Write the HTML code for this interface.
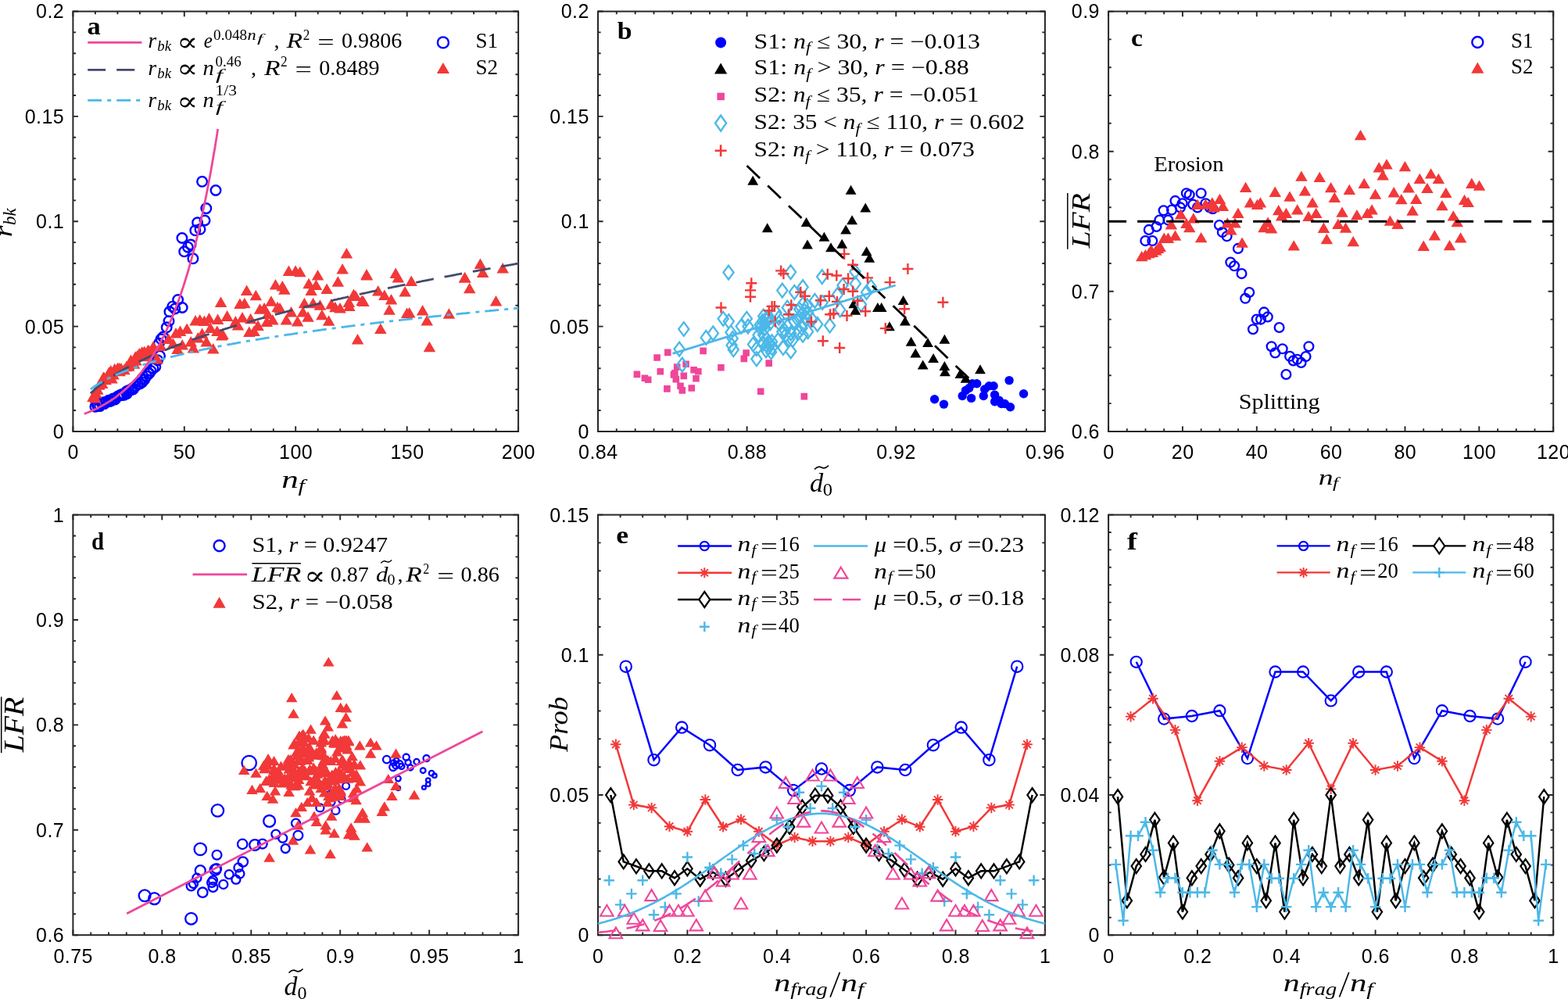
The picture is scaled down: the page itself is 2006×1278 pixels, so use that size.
<!DOCTYPE html>
<html><head><meta charset="utf-8"><style>html,body{margin:0;padding:0;background:#fff;overflow:hidden}svg{display:block}.tk{font-family:"Liberation Sans", Arial, sans-serif;font-size:25px;fill:#000;letter-spacing:0.45px}.m{font-family:"Liberation Serif", "DejaVu Serif", serif;fill:#000}.pl{font-family:"Liberation Serif", "DejaVu Serif", serif;font-weight:bold;font-size:32px;fill:#000}</style></head><body>
<svg xmlns="http://www.w3.org/2000/svg" width="2006" height="1278" viewBox="0 0 2006 1278">
<path d="M93.4 551.9v-6.6M93.4 14.6v6.6M121.9 551.9v-3.6M121.9 14.6v3.6M150.4 551.9v-3.6M150.4 14.6v3.6M178.9 551.9v-3.6M178.9 14.6v3.6M207.3 551.9v-3.6M207.3 14.6v3.6M235.8 551.9v-6.6M235.8 14.6v6.6M264.3 551.9v-3.6M264.3 14.6v3.6M292.8 551.9v-3.6M292.8 14.6v3.6M321.3 551.9v-3.6M321.3 14.6v3.6M349.8 551.9v-3.6M349.8 14.6v3.6M378.2 551.9v-6.6M378.2 14.6v6.6M406.7 551.9v-3.6M406.7 14.6v3.6M435.2 551.9v-3.6M435.2 14.6v3.6M463.7 551.9v-3.6M463.7 14.6v3.6M492.2 551.9v-3.6M492.2 14.6v3.6M520.7 551.9v-6.6M520.7 14.6v6.6M549.2 551.9v-3.6M549.2 14.6v3.6M577.6 551.9v-3.6M577.6 14.6v3.6M606.1 551.9v-3.6M606.1 14.6v3.6M634.6 551.9v-3.6M634.6 14.6v3.6M663.1 551.9v-6.6M663.1 14.6v6.6M93.4 551.9h6.6M663.1 551.9h-6.6M93.4 525h3.6M663.1 525h-3.6M93.4 498.2h3.6M663.1 498.2h-3.6M93.4 471.3h3.6M663.1 471.3h-3.6M93.4 444.4h3.6M663.1 444.4h-3.6M93.4 417.6h6.6M663.1 417.6h-6.6M93.4 390.7h3.6M663.1 390.7h-3.6M93.4 363.8h3.6M663.1 363.8h-3.6M93.4 337h3.6M663.1 337h-3.6M93.4 310.1h3.6M663.1 310.1h-3.6M93.4 283.2h6.6M663.1 283.2h-6.6M93.4 256.4h3.6M663.1 256.4h-3.6M93.4 229.5h3.6M663.1 229.5h-3.6M93.4 202.6h3.6M663.1 202.6h-3.6M93.4 175.8h3.6M663.1 175.8h-3.6M93.4 148.9h6.6M663.1 148.9h-6.6M93.4 122h3.6M663.1 122h-3.6M93.4 95.2h3.6M663.1 95.2h-3.6M93.4 68.3h3.6M663.1 68.3h-3.6M93.4 41.4h3.6M663.1 41.4h-3.6M93.4 14.5h6.6M663.1 14.5h-6.6" stroke="#262626" stroke-width="1.9" fill="none"/>
<rect x="93.4" y="14.6" width="569.7" height="537.4" fill="none" stroke="#262626" stroke-width="2"/>
<text x="93.7" y="587.2" text-anchor="middle" class="tk">0</text>
<text x="236.1" y="587.2" text-anchor="middle" class="tk">50</text>
<text x="378.6" y="587.2" text-anchor="middle" class="tk">100</text>
<text x="521" y="587.2" text-anchor="middle" class="tk">150</text>
<text x="663.4" y="587.2" text-anchor="middle" class="tk">200</text>
<text x="82.2" y="560.8" text-anchor="end" class="tk">0</text>
<text x="82.2" y="426.5" text-anchor="end" class="tk">0.05</text>
<text x="82.2" y="292.1" text-anchor="end" class="tk">0.1</text>
<text x="82.2" y="157.8" text-anchor="end" class="tk">0.15</text>
<text x="82.2" y="23.4" text-anchor="end" class="tk">0.2</text>
<path d="M765 551.9v-6.6M765 14.6v6.6M788.8 551.9v-3.6M788.8 14.6v3.6M812.7 551.9v-3.6M812.7 14.6v3.6M836.5 551.9v-3.6M836.5 14.6v3.6M860.3 551.9v-3.6M860.3 14.6v3.6M884.1 551.9v-3.6M884.1 14.6v3.6M908 551.9v-3.6M908 14.6v3.6M931.8 551.9v-3.6M931.8 14.6v3.6M955.6 551.9v-6.6M955.6 14.6v6.6M979.5 551.9v-3.6M979.5 14.6v3.6M1003.3 551.9v-3.6M1003.3 14.6v3.6M1027.1 551.9v-3.6M1027.1 14.6v3.6M1050.9 551.9v-3.6M1050.9 14.6v3.6M1074.8 551.9v-3.6M1074.8 14.6v3.6M1098.6 551.9v-3.6M1098.6 14.6v3.6M1122.4 551.9v-3.6M1122.4 14.6v3.6M1146.3 551.9v-6.6M1146.3 14.6v6.6M1170.1 551.9v-3.6M1170.1 14.6v3.6M1193.9 551.9v-3.6M1193.9 14.6v3.6M1217.8 551.9v-3.6M1217.8 14.6v3.6M1241.6 551.9v-3.6M1241.6 14.6v3.6M1265.4 551.9v-3.6M1265.4 14.6v3.6M1289.2 551.9v-3.6M1289.2 14.6v3.6M1313.1 551.9v-3.6M1313.1 14.6v3.6M1336.9 551.9v-6.6M1336.9 14.6v6.6M765 551.9h6.6M1336.9 551.9h-6.6M765 525h3.6M1336.9 525h-3.6M765 498.2h3.6M1336.9 498.2h-3.6M765 471.3h3.6M1336.9 471.3h-3.6M765 444.4h3.6M1336.9 444.4h-3.6M765 417.6h6.6M1336.9 417.6h-6.6M765 390.7h3.6M1336.9 390.7h-3.6M765 363.8h3.6M1336.9 363.8h-3.6M765 337h3.6M1336.9 337h-3.6M765 310.1h3.6M1336.9 310.1h-3.6M765 283.2h6.6M1336.9 283.2h-6.6M765 256.4h3.6M1336.9 256.4h-3.6M765 229.5h3.6M1336.9 229.5h-3.6M765 202.6h3.6M1336.9 202.6h-3.6M765 175.8h3.6M1336.9 175.8h-3.6M765 148.9h6.6M1336.9 148.9h-6.6M765 122h3.6M1336.9 122h-3.6M765 95.2h3.6M1336.9 95.2h-3.6M765 68.3h3.6M1336.9 68.3h-3.6M765 41.4h3.6M1336.9 41.4h-3.6M765 14.5h6.6M1336.9 14.5h-6.6" stroke="#262626" stroke-width="1.9" fill="none"/>
<rect x="765" y="14.6" width="571.9" height="537.4" fill="none" stroke="#262626" stroke-width="2"/>
<text x="765.3" y="587.2" text-anchor="middle" class="tk">0.84</text>
<text x="955.9" y="587.2" text-anchor="middle" class="tk">0.88</text>
<text x="1146.6" y="587.2" text-anchor="middle" class="tk">0.92</text>
<text x="1337.2" y="587.2" text-anchor="middle" class="tk">0.96</text>
<text x="753.8" y="560.8" text-anchor="end" class="tk">0</text>
<text x="753.8" y="426.5" text-anchor="end" class="tk">0.05</text>
<text x="753.8" y="292.1" text-anchor="end" class="tk">0.1</text>
<text x="753.8" y="157.8" text-anchor="end" class="tk">0.15</text>
<text x="753.8" y="23.4" text-anchor="end" class="tk">0.2</text>
<path d="M1418.1 551.9v-6.6M1418.1 14.6v6.6M1441.8 551.9v-3.6M1441.8 14.6v3.6M1465.5 551.9v-3.6M1465.5 14.6v3.6M1489.2 551.9v-3.6M1489.2 14.6v3.6M1512.9 551.9v-6.6M1512.9 14.6v6.6M1536.7 551.9v-3.6M1536.7 14.6v3.6M1560.4 551.9v-3.6M1560.4 14.6v3.6M1584.1 551.9v-3.6M1584.1 14.6v3.6M1607.8 551.9v-6.6M1607.8 14.6v6.6M1631.5 551.9v-3.6M1631.5 14.6v3.6M1655.2 551.9v-3.6M1655.2 14.6v3.6M1678.9 551.9v-3.6M1678.9 14.6v3.6M1702.7 551.9v-6.6M1702.7 14.6v6.6M1726.4 551.9v-3.6M1726.4 14.6v3.6M1750.1 551.9v-3.6M1750.1 14.6v3.6M1773.8 551.9v-3.6M1773.8 14.6v3.6M1797.5 551.9v-6.6M1797.5 14.6v6.6M1821.2 551.9v-3.6M1821.2 14.6v3.6M1844.9 551.9v-3.6M1844.9 14.6v3.6M1868.6 551.9v-3.6M1868.6 14.6v3.6M1892.3 551.9v-6.6M1892.3 14.6v6.6M1916.1 551.9v-3.6M1916.1 14.6v3.6M1939.8 551.9v-3.6M1939.8 14.6v3.6M1963.5 551.9v-3.6M1963.5 14.6v3.6M1987.2 551.9v-6.6M1987.2 14.6v6.6M1418.1 551.9h6.6M1987.2 551.9h-6.6M1418.1 516.1h3.6M1987.2 516.1h-3.6M1418.1 480.3h3.6M1987.2 480.3h-3.6M1418.1 444.4h3.6M1987.2 444.4h-3.6M1418.1 408.6h3.6M1987.2 408.6h-3.6M1418.1 372.8h6.6M1987.2 372.8h-6.6M1418.1 337h3.6M1987.2 337h-3.6M1418.1 301.1h3.6M1987.2 301.1h-3.6M1418.1 265.3h3.6M1987.2 265.3h-3.6M1418.1 229.5h3.6M1987.2 229.5h-3.6M1418.1 193.7h6.6M1987.2 193.7h-6.6M1418.1 157.8h3.6M1987.2 157.8h-3.6M1418.1 122h3.6M1987.2 122h-3.6M1418.1 86.2h3.6M1987.2 86.2h-3.6M1418.1 50.4h3.6M1987.2 50.4h-3.6M1418.1 14.6h6.6M1987.2 14.6h-6.6" stroke="#262626" stroke-width="1.9" fill="none"/>
<rect x="1418.1" y="14.6" width="569.1" height="537.4" fill="none" stroke="#262626" stroke-width="2"/>
<text x="1418.4" y="587.2" text-anchor="middle" class="tk">0</text>
<text x="1513.2" y="587.2" text-anchor="middle" class="tk">20</text>
<text x="1608.1" y="587.2" text-anchor="middle" class="tk">40</text>
<text x="1703" y="587.2" text-anchor="middle" class="tk">60</text>
<text x="1797.8" y="587.2" text-anchor="middle" class="tk">80</text>
<text x="1892.6" y="587.2" text-anchor="middle" class="tk">100</text>
<text x="1987.5" y="587.2" text-anchor="middle" class="tk">120</text>
<text x="1406.9" y="560.8" text-anchor="end" class="tk">0.6</text>
<text x="1406.9" y="381.7" text-anchor="end" class="tk">0.7</text>
<text x="1406.9" y="202.6" text-anchor="end" class="tk">0.8</text>
<text x="1406.9" y="23.4" text-anchor="end" class="tk">0.9</text>
<path d="M93.4 1196.2v-6.6M93.4 658.6v6.6M116.2 1196.2v-3.6M116.2 658.6v3.6M139 1196.2v-3.6M139 658.6v3.6M161.8 1196.2v-3.6M161.8 658.6v3.6M184.6 1196.2v-3.6M184.6 658.6v3.6M207.3 1196.2v-6.6M207.3 658.6v6.6M230.1 1196.2v-3.6M230.1 658.6v3.6M252.9 1196.2v-3.6M252.9 658.6v3.6M275.7 1196.2v-3.6M275.7 658.6v3.6M298.5 1196.2v-3.6M298.5 658.6v3.6M321.3 1196.2v-6.6M321.3 658.6v6.6M344.1 1196.2v-3.6M344.1 658.6v3.6M366.9 1196.2v-3.6M366.9 658.6v3.6M389.6 1196.2v-3.6M389.6 658.6v3.6M412.4 1196.2v-3.6M412.4 658.6v3.6M435.2 1196.2v-6.6M435.2 658.6v6.6M458 1196.2v-3.6M458 658.6v3.6M480.8 1196.2v-3.6M480.8 658.6v3.6M503.6 1196.2v-3.6M503.6 658.6v3.6M526.4 1196.2v-3.6M526.4 658.6v3.6M549.2 1196.2v-6.6M549.2 658.6v6.6M571.9 1196.2v-3.6M571.9 658.6v3.6M594.7 1196.2v-3.6M594.7 658.6v3.6M617.5 1196.2v-3.6M617.5 658.6v3.6M640.3 1196.2v-3.6M640.3 658.6v3.6M663.1 1196.2v-6.6M663.1 658.6v6.6M93.4 1196.2h6.6M663.1 1196.2h-6.6M93.4 1169.3h3.6M663.1 1169.3h-3.6M93.4 1142.4h3.6M663.1 1142.4h-3.6M93.4 1115.6h3.6M663.1 1115.6h-3.6M93.4 1088.7h3.6M663.1 1088.7h-3.6M93.4 1061.8h6.6M663.1 1061.8h-6.6M93.4 1034.9h3.6M663.1 1034.9h-3.6M93.4 1008h3.6M663.1 1008h-3.6M93.4 981.2h3.6M663.1 981.2h-3.6M93.4 954.3h3.6M663.1 954.3h-3.6M93.4 927.4h6.6M663.1 927.4h-6.6M93.4 900.5h3.6M663.1 900.5h-3.6M93.4 873.6h3.6M663.1 873.6h-3.6M93.4 846.8h3.6M663.1 846.8h-3.6M93.4 819.9h3.6M663.1 819.9h-3.6M93.4 793h6.6M663.1 793h-6.6M93.4 766.1h3.6M663.1 766.1h-3.6M93.4 739.2h3.6M663.1 739.2h-3.6M93.4 712.4h3.6M663.1 712.4h-3.6M93.4 685.5h3.6M663.1 685.5h-3.6M93.4 658.6h6.6M663.1 658.6h-6.6" stroke="#262626" stroke-width="1.9" fill="none"/>
<rect x="93.4" y="658.6" width="569.7" height="537.6" fill="none" stroke="#262626" stroke-width="2"/>
<text x="93.7" y="1231.5" text-anchor="middle" class="tk">0.75</text>
<text x="207.6" y="1231.5" text-anchor="middle" class="tk">0.8</text>
<text x="321.6" y="1231.5" text-anchor="middle" class="tk">0.85</text>
<text x="435.5" y="1231.5" text-anchor="middle" class="tk">0.9</text>
<text x="549.5" y="1231.5" text-anchor="middle" class="tk">0.95</text>
<text x="663.4" y="1231.5" text-anchor="middle" class="tk">1</text>
<text x="82.2" y="1205.1" text-anchor="end" class="tk">0.6</text>
<text x="82.2" y="1070.7" text-anchor="end" class="tk">0.7</text>
<text x="82.2" y="936.3" text-anchor="end" class="tk">0.8</text>
<text x="82.2" y="801.9" text-anchor="end" class="tk">0.9</text>
<text x="82.2" y="667.5" text-anchor="end" class="tk">1</text>
<path d="M765 1196.2v-6.6M765 658.6v6.6M793.6 1196.2v-3.6M793.6 658.6v3.6M822.2 1196.2v-3.6M822.2 658.6v3.6M850.8 1196.2v-3.6M850.8 658.6v3.6M879.4 1196.2v-6.6M879.4 658.6v6.6M908 1196.2v-3.6M908 658.6v3.6M936.6 1196.2v-3.6M936.6 658.6v3.6M965.2 1196.2v-3.6M965.2 658.6v3.6M993.8 1196.2v-6.6M993.8 658.6v6.6M1022.4 1196.2v-3.6M1022.4 658.6v3.6M1051 1196.2v-3.6M1051 658.6v3.6M1079.5 1196.2v-3.6M1079.5 658.6v3.6M1108.1 1196.2v-6.6M1108.1 658.6v6.6M1136.7 1196.2v-3.6M1136.7 658.6v3.6M1165.3 1196.2v-3.6M1165.3 658.6v3.6M1193.9 1196.2v-3.6M1193.9 658.6v3.6M1222.5 1196.2v-6.6M1222.5 658.6v6.6M1251.1 1196.2v-3.6M1251.1 658.6v3.6M1279.7 1196.2v-3.6M1279.7 658.6v3.6M1308.3 1196.2v-3.6M1308.3 658.6v3.6M1336.9 1196.2v-6.6M1336.9 658.6v6.6M765 1196.2h6.6M1336.9 1196.2h-6.6M765 1160.4h3.6M1336.9 1160.4h-3.6M765 1124.5h3.6M1336.9 1124.5h-3.6M765 1088.7h3.6M1336.9 1088.7h-3.6M765 1052.8h3.6M1336.9 1052.8h-3.6M765 1017h6.6M1336.9 1017h-6.6M765 981.2h3.6M1336.9 981.2h-3.6M765 945.3h3.6M1336.9 945.3h-3.6M765 909.5h3.6M1336.9 909.5h-3.6M765 873.6h3.6M1336.9 873.6h-3.6M765 837.8h6.6M1336.9 837.8h-6.6M765 802h3.6M1336.9 802h-3.6M765 766.1h3.6M1336.9 766.1h-3.6M765 730.3h3.6M1336.9 730.3h-3.6M765 694.4h3.6M1336.9 694.4h-3.6M765 658.6h6.6M1336.9 658.6h-6.6" stroke="#262626" stroke-width="1.9" fill="none"/>
<rect x="765" y="658.6" width="571.9" height="537.6" fill="none" stroke="#262626" stroke-width="2"/>
<text x="765.3" y="1231.5" text-anchor="middle" class="tk">0</text>
<text x="879.7" y="1231.5" text-anchor="middle" class="tk">0.2</text>
<text x="994.1" y="1231.5" text-anchor="middle" class="tk">0.4</text>
<text x="1108.4" y="1231.5" text-anchor="middle" class="tk">0.6</text>
<text x="1222.8" y="1231.5" text-anchor="middle" class="tk">0.8</text>
<text x="1337.2" y="1231.5" text-anchor="middle" class="tk">1</text>
<text x="753.8" y="1205.1" text-anchor="end" class="tk">0</text>
<text x="753.8" y="1025.9" text-anchor="end" class="tk">0.05</text>
<text x="753.8" y="846.7" text-anchor="end" class="tk">0.1</text>
<text x="753.8" y="667.5" text-anchor="end" class="tk">0.15</text>
<path d="M1418.1 1196.2v-6.6M1418.1 658.6v6.6M1446.6 1196.2v-3.6M1446.6 658.6v3.6M1475 1196.2v-3.6M1475 658.6v3.6M1503.5 1196.2v-3.6M1503.5 658.6v3.6M1531.9 1196.2v-6.6M1531.9 658.6v6.6M1560.4 1196.2v-3.6M1560.4 658.6v3.6M1588.8 1196.2v-3.6M1588.8 658.6v3.6M1617.3 1196.2v-3.6M1617.3 658.6v3.6M1645.7 1196.2v-6.6M1645.7 658.6v6.6M1674.2 1196.2v-3.6M1674.2 658.6v3.6M1702.7 1196.2v-3.6M1702.7 658.6v3.6M1731.1 1196.2v-3.6M1731.1 658.6v3.6M1759.6 1196.2v-6.6M1759.6 658.6v6.6M1788 1196.2v-3.6M1788 658.6v3.6M1816.5 1196.2v-3.6M1816.5 658.6v3.6M1844.9 1196.2v-3.6M1844.9 658.6v3.6M1873.4 1196.2v-6.6M1873.4 658.6v6.6M1901.8 1196.2v-3.6M1901.8 658.6v3.6M1930.3 1196.2v-3.6M1930.3 658.6v3.6M1958.7 1196.2v-3.6M1958.7 658.6v3.6M1987.2 1196.2v-6.6M1987.2 658.6v6.6M1418.1 1196.2h6.6M1987.2 1196.2h-6.6M1418.1 1173.8h3.6M1987.2 1173.8h-3.6M1418.1 1151.4h3.6M1987.2 1151.4h-3.6M1418.1 1129h3.6M1987.2 1129h-3.6M1418.1 1106.6h3.6M1987.2 1106.6h-3.6M1418.1 1084.2h3.6M1987.2 1084.2h-3.6M1418.1 1061.8h3.6M1987.2 1061.8h-3.6M1418.1 1039.4h3.6M1987.2 1039.4h-3.6M1418.1 1017h6.6M1987.2 1017h-6.6M1418.1 994.6h3.6M1987.2 994.6h-3.6M1418.1 972.2h3.6M1987.2 972.2h-3.6M1418.1 949.8h3.6M1987.2 949.8h-3.6M1418.1 927.4h3.6M1987.2 927.4h-3.6M1418.1 905h3.6M1987.2 905h-3.6M1418.1 882.6h3.6M1987.2 882.6h-3.6M1418.1 860.2h3.6M1987.2 860.2h-3.6M1418.1 837.8h6.6M1987.2 837.8h-6.6M1418.1 815.4h3.6M1987.2 815.4h-3.6M1418.1 793h3.6M1987.2 793h-3.6M1418.1 770.6h3.6M1987.2 770.6h-3.6M1418.1 748.2h3.6M1987.2 748.2h-3.6M1418.1 725.8h3.6M1987.2 725.8h-3.6M1418.1 703.4h3.6M1987.2 703.4h-3.6M1418.1 681h3.6M1987.2 681h-3.6M1418.1 658.6h6.6M1987.2 658.6h-6.6" stroke="#262626" stroke-width="1.9" fill="none"/>
<rect x="1418.1" y="658.6" width="569.1" height="537.6" fill="none" stroke="#262626" stroke-width="2"/>
<text x="1418.4" y="1231.5" text-anchor="middle" class="tk">0</text>
<text x="1532.2" y="1231.5" text-anchor="middle" class="tk">0.2</text>
<text x="1646" y="1231.5" text-anchor="middle" class="tk">0.4</text>
<text x="1759.9" y="1231.5" text-anchor="middle" class="tk">0.6</text>
<text x="1873.7" y="1231.5" text-anchor="middle" class="tk">0.8</text>
<text x="1987.5" y="1231.5" text-anchor="middle" class="tk">1</text>
<text x="1406.9" y="1205.1" text-anchor="end" class="tk">0</text>
<text x="1406.9" y="1025.9" text-anchor="end" class="tk">0.04</text>
<text x="1406.9" y="846.7" text-anchor="end" class="tk">0.08</text>
<text x="1406.9" y="667.5" text-anchor="end" class="tk">0.12</text>
<text x="111.6" y="43.6" class="pl" textLength="17.2" lengthAdjust="spacingAndGlyphs">a</text>
<text x="789.8" y="49.6" class="pl" textLength="18.8" lengthAdjust="spacingAndGlyphs">b</text>
<text x="1447" y="58.6" class="pl" textLength="15" lengthAdjust="spacingAndGlyphs">c</text>
<text x="117" y="703.2" class="pl" textLength="16.1" lengthAdjust="spacingAndGlyphs">d</text>
<text x="788.3" y="695.3" class="pl" textLength="15.8" lengthAdjust="spacingAndGlyphs">e</text>
<text x="1441.8" y="702.6" class="pl" textLength="13.1" lengthAdjust="spacingAndGlyphs">f</text>
<text class="m" x="360.2" y="623.9" font-size="31.5" font-style="italic" textLength="21.5" lengthAdjust="spacingAndGlyphs">n</text>
<text class="m" x="381.5" y="628.8" font-size="23.6" font-style="italic" textLength="8.4" lengthAdjust="spacingAndGlyphs">f</text>
<g transform="translate(0 310) rotate(-90)"><text class="m" x="6.7" y="14.9" font-size="31" font-style="italic" textLength="14.6" lengthAdjust="spacingAndGlyphs">r</text><text class="m" x="22.1" y="19.8" font-size="23.6" font-style="italic" textLength="21.6" lengthAdjust="spacingAndGlyphs">bk</text></g>
<text class="m" x="1036" y="628.7" font-size="33" font-style="italic" textLength="17.2" lengthAdjust="spacingAndGlyphs">d</text>
<text class="m" x="1052.8" y="634" font-size="23.5" textLength="12.2" lengthAdjust="spacingAndGlyphs">0</text>
<path d="M1042 600.5q4.5-5 9-2.5t9-2.5" stroke="#000" stroke-width="1.7" fill="none"/>
<text class="m" x="1686.8" y="620" font-size="27" font-style="italic" textLength="18.9" lengthAdjust="spacingAndGlyphs">n</text>
<text class="m" x="1705" y="624.3" font-size="18.7" font-style="italic" textLength="7.1" lengthAdjust="spacingAndGlyphs">f</text>
<g transform="translate(1393.5 318) rotate(-90)"><text class="m" x="0.5" y="0" font-size="34.4" font-style="italic" textLength="70.6" lengthAdjust="spacingAndGlyphs">LFR</text></g>
<path d="M1365.8 246.9V318.7" stroke="#000" stroke-width="1.5"/>
<text class="m" x="363.5" y="1273" font-size="33" font-style="italic" textLength="16.9" lengthAdjust="spacingAndGlyphs">d</text>
<text class="m" x="380.4" y="1278.3" font-size="23.5" textLength="12" lengthAdjust="spacingAndGlyphs">0</text>
<path d="M369.5 1244.5q4.5-5 9-2.5t9-2.5" stroke="#000" stroke-width="1.7" fill="none"/>
<g transform="translate(29.6 962.8) rotate(-90)"><text class="m" x="0.5" y="0" font-size="35" font-style="italic" textLength="70.7" lengthAdjust="spacingAndGlyphs">LFR</text></g>
<path d="M1.7 891.4V963.2" stroke="#000" stroke-width="1.5"/>
<text class="m" x="990.3" y="1268.1" font-size="31.6" font-style="italic" textLength="21" lengthAdjust="spacingAndGlyphs">n</text><text class="m" x="1011.3" y="1273" font-size="22.1" font-style="italic" textLength="47.5" lengthAdjust="spacingAndGlyphs">frag</text><path d="M1074.4 1243.8L1062.1 1275.6" stroke="#000" stroke-width="1.7"/><text class="m" x="1075.5" y="1268.1" font-size="31.6" font-style="italic" textLength="21.5" lengthAdjust="spacingAndGlyphs">n</text><text class="m" x="1096.8" y="1273" font-size="22.1" font-style="italic" textLength="8.5" lengthAdjust="spacingAndGlyphs">f</text>
<g transform="translate(725.6 961.9) rotate(-90)"><text class="m" x="0.2" y="0" font-size="34" font-style="italic" textLength="70.5" lengthAdjust="spacingAndGlyphs">Prob</text></g>
<text class="m" x="1641.7" y="1268" font-size="31.6" font-style="italic" textLength="21" lengthAdjust="spacingAndGlyphs">n</text><text class="m" x="1662.7" y="1272.9" font-size="22.1" font-style="italic" textLength="47.5" lengthAdjust="spacingAndGlyphs">frag</text><path d="M1725.8 1243.7L1713.5 1275.5" stroke="#000" stroke-width="1.7"/><text class="m" x="1726.9" y="1268" font-size="31.6" font-style="italic" textLength="21.5" lengthAdjust="spacingAndGlyphs">n</text><text class="m" x="1748.2" y="1272.9" font-size="22.1" font-style="italic" textLength="8.5" lengthAdjust="spacingAndGlyphs">f</text>
<text class="m" x="1476.2" y="218.8" font-size="27" textLength="89.3" lengthAdjust="spacingAndGlyphs" ><tspan >Erosion</tspan></text>
<text class="m" x="1584.7" y="522.8" font-size="27" textLength="103.8" lengthAdjust="spacingAndGlyphs" ><tspan >Splitting</tspan></text>
<path d="M112.2 54.3H181.4" stroke="#f0469a" stroke-width="2.8"/>
<path d="M112.2 89.3H181.4" stroke="#434a6c" stroke-width="2.8" stroke-dasharray="23 14"/>
<path d="M112.2 128.4H181" stroke="#4cb8e8" stroke-width="2.8" stroke-dasharray="18 7 5 7"/>
<text class="m" x="189.4" y="61.1" font-size="28" font-style="italic" textLength="10.6" lengthAdjust="spacingAndGlyphs">r</text>
<text class="m" x="201.3" y="65.3" font-size="19.5" font-style="italic" textLength="17.7" lengthAdjust="spacingAndGlyphs">bk</text>
<text class="m" x="226.1" y="64.9" font-size="33.4" style='font-family:"DejaVu Serif", serif' textLength="27.4" lengthAdjust="spacingAndGlyphs">∝</text>
<text class="m" x="189.4" y="95.6" font-size="28" font-style="italic" textLength="10.6" lengthAdjust="spacingAndGlyphs">r</text>
<text class="m" x="201.3" y="99.8" font-size="19.5" font-style="italic" textLength="17.7" lengthAdjust="spacingAndGlyphs">bk</text>
<text class="m" x="226.1" y="99.4" font-size="33.4" style='font-family:"DejaVu Serif", serif' textLength="27.4" lengthAdjust="spacingAndGlyphs">∝</text>
<text class="m" x="189.4" y="136.7" font-size="28" font-style="italic" textLength="10.6" lengthAdjust="spacingAndGlyphs">r</text>
<text class="m" x="201.3" y="140.9" font-size="19.5" font-style="italic" textLength="17.7" lengthAdjust="spacingAndGlyphs">bk</text>
<text class="m" x="226.1" y="140.5" font-size="33.4" style='font-family:"DejaVu Serif", serif' textLength="27.4" lengthAdjust="spacingAndGlyphs">∝</text>
<text class="m" x="260.8" y="61.1" font-size="28" font-style="italic" textLength="11.1" lengthAdjust="spacingAndGlyphs">e</text>
<text class="m" x="273.1" y="51.1" font-size="19.5" textLength="43.1" lengthAdjust="spacingAndGlyphs">0.048</text>
<text class="m" x="316.6" y="51.1" font-size="19.5" font-style="italic" textLength="11.1" lengthAdjust="spacingAndGlyphs">n</text>
<text class="m" x="328.9" y="54.3" font-size="14" font-style="italic" textLength="7.6" lengthAdjust="spacingAndGlyphs">f</text>
<text class="m" x="350.5" y="61.3" font-size="28">,</text>
<text class="m" x="366.5" y="61.3" font-size="28" font-style="italic" textLength="20.5" lengthAdjust="spacingAndGlyphs">R</text>
<text class="m" x="387.8" y="51.1" font-size="19.5" textLength="8.6" lengthAdjust="spacingAndGlyphs">2</text>
<text class="m" x="406.3" y="63.4" font-size="28" textLength="21.4" lengthAdjust="spacingAndGlyphs">=</text>
<text class="m" x="437" y="61.3" font-size="28" textLength="77.3" lengthAdjust="spacingAndGlyphs">0.9806</text>
<text class="m" x="259.6" y="95.6" font-size="28" font-style="italic" textLength="14.3" lengthAdjust="spacingAndGlyphs">n</text>
<text class="m" x="275.9" y="101.8" font-size="19.5" font-style="italic" textLength="9.2" lengthAdjust="spacingAndGlyphs">f</text>
<text class="m" x="275.5" y="85.3" font-size="19.5" textLength="33.1" lengthAdjust="spacingAndGlyphs">0.46</text>
<text class="m" x="321" y="95.5" font-size="28">,</text>
<text class="m" x="338" y="95.5" font-size="28" font-style="italic" textLength="20.5" lengthAdjust="spacingAndGlyphs">R</text>
<text class="m" x="359" y="85.3" font-size="19.5" textLength="8.6" lengthAdjust="spacingAndGlyphs">2</text>
<text class="m" x="377.6" y="97.6" font-size="28" textLength="21.4" lengthAdjust="spacingAndGlyphs">=</text>
<text class="m" x="408.3" y="95.5" font-size="28" textLength="77.2" lengthAdjust="spacingAndGlyphs">0.8489</text>
<text class="m" x="259.6" y="136.7" font-size="28" font-style="italic" textLength="14.3" lengthAdjust="spacingAndGlyphs">n</text>
<text class="m" x="275.9" y="142.9" font-size="19.5" font-style="italic" textLength="9.2" lengthAdjust="spacingAndGlyphs">f</text>
<text class="m" x="275.5" y="122.4" font-size="19.5" textLength="27.5" lengthAdjust="spacingAndGlyphs">1/3</text>
<g fill="none" stroke="#0000ff" stroke-width="2.4"><circle cx="566.9" cy="54.4" r="7"/></g>
<path fill="#f23838" d="M566.9 79.9l8.1 14.2h-16.2z"/>
<text class="m" x="608.6" y="61" font-size="27" ><tspan >S1</tspan></text>
<text class="m" x="608.6" y="95" font-size="27" ><tspan >S2</tspan></text>
<circle cx="922.1" cy="54.4" r="7" fill="#0000ff"/>
<path fill="#000000" d="M922.1 80.4l8.1 14h-16.2z"/>
<path fill="#f0469a" d="M917.4 118.7h9.5v9.5h-9.5z"/>
<path fill="none" stroke="#4cb8e8" stroke-width="2.5"  d="M922.1 147.6l7 10l-7 10l-7 -10z"/>
<path fill="none" stroke="#f23838" stroke-width="2.6"  d="M914.6 192.7h15M922.1 185.2v15"/>
<text class="m" x="964.6" y="61.5" font-size="27" textLength="289.4" lengthAdjust="spacingAndGlyphs" ><tspan >S1:  </tspan><tspan font-style="italic">n</tspan><tspan font-style="italic" font-size="18.9" dy="5.9">f</tspan><tspan dy="-5.9"> ≤ 30, </tspan><tspan font-style="italic">r</tspan><tspan > = −0.013</tspan></text>
<text class="m" x="964.6" y="94.8" font-size="27" textLength="275.2" lengthAdjust="spacingAndGlyphs" ><tspan >S1:  </tspan><tspan font-style="italic">n</tspan><tspan font-style="italic" font-size="18.9" dy="5.9">f</tspan><tspan dy="-5.9"> &gt; 30, </tspan><tspan font-style="italic">r</tspan><tspan > = −0.88</tspan></text>
<text class="m" x="964.6" y="130.4" font-size="27" textLength="288" lengthAdjust="spacingAndGlyphs" ><tspan >S2:  </tspan><tspan font-style="italic">n</tspan><tspan font-style="italic" font-size="18.9" dy="5.9">f</tspan><tspan dy="-5.9"> ≤ 35, </tspan><tspan font-style="italic">r</tspan><tspan > = −0.051</tspan></text>
<text class="m" x="964.6" y="164.6" font-size="27" textLength="346.4" lengthAdjust="spacingAndGlyphs" ><tspan >S2:  35 &lt; </tspan><tspan font-style="italic">n</tspan><tspan font-style="italic" font-size="18.9" dy="5.9">f</tspan><tspan dy="-5.9"> ≤ 110, </tspan><tspan font-style="italic">r</tspan><tspan > = 0.602</tspan></text>
<text class="m" x="964.6" y="199.7" font-size="27" textLength="282.3" lengthAdjust="spacingAndGlyphs" ><tspan >S2:  </tspan><tspan font-style="italic">n</tspan><tspan font-style="italic" font-size="18.9" dy="5.9">f</tspan><tspan dy="-5.9"> &gt; 110, </tspan><tspan font-style="italic">r</tspan><tspan > = 0.073</tspan></text>
<g fill="none" stroke="#0000ff" stroke-width="2.4"><circle cx="1890.3" cy="54" r="7"/></g>
<path fill="#f23838" d="M1890.3 79.5l8.1 14.2h-16.2z"/>
<text class="m" x="1932.9" y="61.3" font-size="27" ><tspan >S1</tspan></text>
<text class="m" x="1932.9" y="94.3" font-size="27" ><tspan >S2</tspan></text>
<g fill="none" stroke="#0000ff" stroke-width="2.4"><circle cx="280.6" cy="698.2" r="7"/></g>
<path d="M246.5 734.8H316.1" stroke="#f0469a" stroke-width="2.8"/>
<path fill="#f23838" d="M280.6 763.6l8.1 14.2h-16.2z"/>
<text class="m" x="322.6" y="705.5" font-size="27" textLength="173.4" lengthAdjust="spacingAndGlyphs" ><tspan >S1, </tspan><tspan font-style="italic">r</tspan><tspan > = 0.9247</tspan></text>
<text class="m" x="321.8" y="743.9" font-size="28" font-style="italic" textLength="63.5" lengthAdjust="spacingAndGlyphs">LFR</text>
<path d="M322.4 720.7H384.9" stroke="#000" stroke-width="1.4"/>
<text class="m" x="389" y="747.7" font-size="33.4" style='font-family:"DejaVu Serif", serif' textLength="27.7" lengthAdjust="spacingAndGlyphs">∝</text>
<text class="m" x="422.8" y="743.9" font-size="28" textLength="49" lengthAdjust="spacingAndGlyphs">0.87</text>
<text class="m" x="481" y="743.9" font-size="28" font-style="italic" textLength="15.5" lengthAdjust="spacingAndGlyphs">d</text>
<path d="M487.2 720.4q3.5-4 7-2t7-2" stroke="#000" stroke-width="1.4" fill="none"/>
<text class="m" x="495.6" y="747.9" font-size="19.5" textLength="10" lengthAdjust="spacingAndGlyphs">0</text>
<text class="m" x="508.6" y="743.9" font-size="28">,</text>
<text class="m" x="519.3" y="743.9" font-size="28" font-style="italic" textLength="20.5" lengthAdjust="spacingAndGlyphs">R</text>
<text class="m" x="541.3" y="734" font-size="19.5" textLength="8" lengthAdjust="spacingAndGlyphs">2</text>
<text class="m" x="559.3" y="746" font-size="28" textLength="21.8" lengthAdjust="spacingAndGlyphs">=</text>
<text class="m" x="589.5" y="743.9" font-size="28" textLength="49.5" lengthAdjust="spacingAndGlyphs">0.86</text>
<text class="m" x="322.6" y="778.6" font-size="27" textLength="180.2" lengthAdjust="spacingAndGlyphs" ><tspan >S2, </tspan><tspan font-style="italic">r</tspan><tspan > = −0.058</tspan></text>
<path d="M867.1 698.5H936.1" stroke="#0000ff" stroke-width="2.4"/>
<g fill="none" stroke="#0000ff" stroke-width="2.2"><circle cx="901.3" cy="698.5" r="5.6"/></g>
<path d="M867.1 732.7H936.1" stroke="#f23838" stroke-width="2.4"/>
<path fill="none" stroke="#f23838" stroke-width="2"  d="M901.3 726.2v13M896.7 728.1l9.2 9.2M896.7 737.3l9.2 -9.2M894.8 732.7h13"/>
<path d="M867.1 767H936.1" stroke="#000000" stroke-width="2.4"/>
<path d="M901.3 757l7 10l-7 10l-7 -10z" fill="#fff" stroke="#000" stroke-width="2.2"/>
<path fill="none" stroke="#4cb8e8" stroke-width="2.4"  d="M894.8 801.7h13M901.3 795.2v13"/>
<text class="m" x="943.5" y="705.3" font-size="28" font-style="italic" textLength="16.9" lengthAdjust="spacingAndGlyphs">n</text><text class="m" x="961.3" y="709.9" font-size="19.5" font-style="italic" textLength="6.2" lengthAdjust="spacingAndGlyphs">f</text><text class="m" x="973" y="707.6" font-size="28" textLength="21.9" lengthAdjust="spacingAndGlyphs">=</text><text class="m" x="996.1" y="705.3" font-size="28" textLength="26.6" lengthAdjust="spacingAndGlyphs">16</text>
<text class="m" x="943.5" y="739.5" font-size="28" font-style="italic" textLength="16.9" lengthAdjust="spacingAndGlyphs">n</text><text class="m" x="961.3" y="744.1" font-size="19.5" font-style="italic" textLength="6.2" lengthAdjust="spacingAndGlyphs">f</text><text class="m" x="973" y="741.8" font-size="28" textLength="21.9" lengthAdjust="spacingAndGlyphs">=</text><text class="m" x="996.1" y="739.5" font-size="28" textLength="26.6" lengthAdjust="spacingAndGlyphs">25</text>
<text class="m" x="943.5" y="773.8" font-size="28" font-style="italic" textLength="16.9" lengthAdjust="spacingAndGlyphs">n</text><text class="m" x="961.3" y="778.4" font-size="19.5" font-style="italic" textLength="6.2" lengthAdjust="spacingAndGlyphs">f</text><text class="m" x="973" y="776.1" font-size="28" textLength="21.9" lengthAdjust="spacingAndGlyphs">=</text><text class="m" x="996.1" y="773.8" font-size="28" textLength="26.6" lengthAdjust="spacingAndGlyphs">35</text>
<text class="m" x="943.5" y="808.5" font-size="28" font-style="italic" textLength="16.9" lengthAdjust="spacingAndGlyphs">n</text><text class="m" x="961.3" y="813.1" font-size="19.5" font-style="italic" textLength="6.2" lengthAdjust="spacingAndGlyphs">f</text><text class="m" x="973" y="810.8" font-size="28" textLength="21.9" lengthAdjust="spacingAndGlyphs">=</text><text class="m" x="996.1" y="808.5" font-size="28" textLength="26.6" lengthAdjust="spacingAndGlyphs">40</text>
<path d="M1041 698.5H1110" stroke="#4cb8e8" stroke-width="2.6"/>
<path fill="none" stroke="#f0469a" stroke-width="2.2"  d="M1075.8 725.7l8.5 14h-17z"/>
<path d="M1041 767H1110" stroke="#f0469a" stroke-width="2.6" stroke-dasharray="23 14"/>
<text class="m" x="1118.6" y="705.5" font-size="27" textLength="191.6" lengthAdjust="spacingAndGlyphs" ><tspan font-style="italic">μ</tspan><tspan > =0.5, </tspan><tspan font-style="italic">σ</tspan><tspan > =0.23</tspan></text>
<text class="m" x="1118" y="739.5" font-size="28" font-style="italic" textLength="16.9" lengthAdjust="spacingAndGlyphs">n</text><text class="m" x="1135.8" y="744.1" font-size="19.5" font-style="italic" textLength="6.2" lengthAdjust="spacingAndGlyphs">f</text><text class="m" x="1147.5" y="741.8" font-size="28" textLength="21.9" lengthAdjust="spacingAndGlyphs">=</text><text class="m" x="1170.6" y="739.5" font-size="28" textLength="26.6" lengthAdjust="spacingAndGlyphs">50</text>
<text class="m" x="1118.6" y="774" font-size="27" textLength="191.6" lengthAdjust="spacingAndGlyphs" ><tspan font-style="italic">μ</tspan><tspan > =0.5, </tspan><tspan font-style="italic">σ</tspan><tspan > =0.18</tspan></text>
<path d="M1633.6 698.4H1701.7" stroke="#0000ff" stroke-width="2.4"/>
<g fill="none" stroke="#0000ff" stroke-width="2.2"><circle cx="1667.6" cy="698.4" r="5.6"/></g>
<path d="M1633.6 732.4H1701.7" stroke="#f23838" stroke-width="2.4"/>
<path fill="none" stroke="#f23838" stroke-width="2"  d="M1667.6 725.9v13M1663 727.8l9.2 9.2M1663 737l9.2 -9.2M1661.1 732.4h13"/>
<path d="M1807.2 698.4H1875.3" stroke="#000000" stroke-width="2.4"/>
<path d="M1841.3 688.4l7 10l-7 10l-7 -10z" fill="#fff" stroke="#000" stroke-width="2.2"/>
<path d="M1807.2 732.4H1875.3" stroke="#4cb8e8" stroke-width="2.4"/>
<path fill="none" stroke="#4cb8e8" stroke-width="2.4"  d="M1834.8 732.4h13M1841.3 725.9v13"/>
<text class="m" x="1709.6" y="705.2" font-size="28" font-style="italic" textLength="16.9" lengthAdjust="spacingAndGlyphs">n</text><text class="m" x="1727.4" y="709.8" font-size="19.5" font-style="italic" textLength="6.2" lengthAdjust="spacingAndGlyphs">f</text><text class="m" x="1739.1" y="707.5" font-size="28" textLength="21.9" lengthAdjust="spacingAndGlyphs">=</text><text class="m" x="1762.2" y="705.2" font-size="28" textLength="26.6" lengthAdjust="spacingAndGlyphs">16</text>
<text class="m" x="1709.6" y="739.2" font-size="28" font-style="italic" textLength="16.9" lengthAdjust="spacingAndGlyphs">n</text><text class="m" x="1727.4" y="743.8" font-size="19.5" font-style="italic" textLength="6.2" lengthAdjust="spacingAndGlyphs">f</text><text class="m" x="1739.1" y="741.5" font-size="28" textLength="21.9" lengthAdjust="spacingAndGlyphs">=</text><text class="m" x="1762.2" y="739.2" font-size="28" textLength="26.6" lengthAdjust="spacingAndGlyphs">20</text>
<text class="m" x="1883.5" y="705.2" font-size="28" font-style="italic" textLength="16.9" lengthAdjust="spacingAndGlyphs">n</text><text class="m" x="1901.3" y="709.8" font-size="19.5" font-style="italic" textLength="6.2" lengthAdjust="spacingAndGlyphs">f</text><text class="m" x="1913" y="707.5" font-size="28" textLength="21.9" lengthAdjust="spacingAndGlyphs">=</text><text class="m" x="1936.1" y="705.2" font-size="28" textLength="26.6" lengthAdjust="spacingAndGlyphs">48</text>
<text class="m" x="1883.5" y="739.2" font-size="28" font-style="italic" textLength="16.9" lengthAdjust="spacingAndGlyphs">n</text><text class="m" x="1901.3" y="743.8" font-size="19.5" font-style="italic" textLength="6.2" lengthAdjust="spacingAndGlyphs">f</text><text class="m" x="1913" y="741.5" font-size="28" textLength="21.9" lengthAdjust="spacingAndGlyphs">=</text><text class="m" x="1936.1" y="739.2" font-size="28" textLength="26.6" lengthAdjust="spacingAndGlyphs">60</text>
<g fill="none" stroke="#0000ff" stroke-width="2.4"><circle cx="121.9" cy="520.3" r="6.3"/><circle cx="124.7" cy="518.6" r="6.3"/><circle cx="127.6" cy="519.6" r="6.3"/><circle cx="130.4" cy="516.3" r="6.3"/><circle cx="133.3" cy="516.6" r="6.3"/><circle cx="136.1" cy="514.5" r="6.3"/><circle cx="139" cy="512.2" r="6.3"/><circle cx="141.8" cy="513" r="6.3"/><circle cx="144.7" cy="510.1" r="6.3"/><circle cx="147.5" cy="510.2" r="6.3"/><circle cx="150.4" cy="507.3" r="6.3"/><circle cx="153.2" cy="505.7" r="6.3"/><circle cx="156.1" cy="505.4" r="6.3"/><circle cx="158.9" cy="505.3" r="6.3"/><circle cx="161.8" cy="500.7" r="6.3"/><circle cx="164.6" cy="499.4" r="6.3"/><circle cx="167.5" cy="498.8" r="6.3"/><circle cx="170.3" cy="498" r="6.3"/><circle cx="173.2" cy="494.3" r="6.3"/><circle cx="176" cy="491.1" r="6.3"/><circle cx="178.9" cy="490.9" r="6.3"/><circle cx="181.7" cy="484.9" r="6.3"/><circle cx="184.6" cy="485.8" r="6.3"/><circle cx="187.4" cy="481.2" r="6.3"/><circle cx="190.2" cy="477.6" r="6.3"/><circle cx="193.1" cy="474.5" r="6.3"/><circle cx="195.9" cy="471.2" r="6.3"/><circle cx="198.8" cy="469.3" r="6.3"/><circle cx="201.6" cy="460.7" r="6.3"/><circle cx="204.5" cy="455.3" r="6.3"/><circle cx="125" cy="519.2" r="6.3"/><circle cx="130.5" cy="515.4" r="6.3"/><circle cx="132.4" cy="514.7" r="6.3"/><circle cx="139.3" cy="513.6" r="6.3"/><circle cx="147.1" cy="511" r="6.3"/><circle cx="156" cy="504.5" r="6.3"/><circle cx="162.4" cy="503.4" r="6.3"/><circle cx="169.8" cy="496.6" r="6.3"/><circle cx="181.8" cy="488.9" r="6.3"/><circle cx="190.7" cy="477.7" r="6.3"/><circle cx="258.6" cy="232.3" r="6.3"/><circle cx="276" cy="243.5" r="6.3"/><circle cx="263.8" cy="266.6" r="6.3"/><circle cx="262" cy="282" r="6.3"/><circle cx="252.6" cy="284.8" r="6.3"/><circle cx="256" cy="293.3" r="6.3"/><circle cx="249.8" cy="294.8" r="6.3"/><circle cx="232.9" cy="304.5" r="6.3"/><circle cx="244.1" cy="313" r="6.3"/><circle cx="240.4" cy="316.2" r="6.3"/><circle cx="235.7" cy="321.8" r="6.3"/><circle cx="246.9" cy="330.8" r="6.3"/><circle cx="227.6" cy="383.5" r="6.3"/><circle cx="233.2" cy="393.5" r="6.3"/><circle cx="220.7" cy="392.2" r="6.3"/><circle cx="223.8" cy="395" r="6.3"/><circle cx="216.9" cy="398.8" r="6.3"/><circle cx="216" cy="410.7" r="6.3"/><circle cx="213.2" cy="418.8" r="6.3"/><circle cx="208.7" cy="431.1" r="6.3"/><circle cx="206.1" cy="433.8" r="6.3"/><circle cx="203.4" cy="439.2" r="6.3"/></g>
<path fill="#f23838" d="M118.9 500.4l7.8 13.5h-15.5zM122.9 496.1l7.8 13.5h-15.5zM124.8 491.2l7.8 13.5h-15.5zM126.8 485.3l7.8 13.5h-15.5zM130.7 483.4l7.8 13.5h-15.5zM132.3 475.5l7.8 13.5h-15.5zM135.1 478.7l7.8 13.5h-15.5zM139.4 469.3l7.8 13.5h-15.5zM143 476.9l7.8 13.5h-15.5zM145 472.1l7.8 13.5h-15.5zM146.7 464.7l7.8 13.5h-15.5zM150.4 463.8l7.8 13.5h-15.5zM152.5 463.7l7.8 13.5h-15.5zM154.9 463.9l7.8 13.5h-15.5zM158.8 465.7l7.8 13.5h-15.5zM161.8 461.7l7.8 13.5h-15.5zM164.6 459.5l7.8 13.5h-15.5zM167.4 453.4l7.8 13.5h-15.5zM171.5 458.2l7.8 13.5h-15.5zM174 454l7.8 13.5h-15.5zM175.6 447.9l7.8 13.5h-15.5zM178.3 445l7.8 13.5h-15.5zM182.3 446.9l7.8 13.5h-15.5zM185.4 445.4l7.8 13.5h-15.5zM188.5 448.7l7.8 13.5h-15.5zM189.1 441.3l7.8 13.5h-15.5zM194.1 442.9l7.8 13.5h-15.5zM121.9 502l7.8 13.5h-15.5zM133.3 476l7.8 13.5h-15.5zM141.8 467.1l7.8 13.5h-15.5zM153.2 467.8l7.8 13.5h-15.5zM164.6 461.3l7.8 13.5h-15.5zM173.2 449.2l7.8 13.5h-15.5zM181.7 443l7.8 13.5h-15.5zM190.2 442.2l7.8 13.5h-15.5zM443.4 317.1l7.8 13.5h-15.5zM438.1 337.1l7.8 13.5h-15.5zM369.4 339.6l7.8 13.5h-15.5zM378.1 339.2l7.8 13.5h-15.5zM383.8 340.8l7.8 13.5h-15.5zM406.5 345.1l7.8 13.5h-15.5zM469 343.9l7.8 13.5h-15.5zM352.5 357.1l7.8 13.5h-15.5zM361.3 358.9l7.8 13.5h-15.5zM395 355.8l7.8 13.5h-15.5zM404.4 357.6l7.8 13.5h-15.5zM432.3 353.2l7.8 13.5h-15.5zM363.8 363.2l7.8 13.5h-15.5zM315.6 364.6l7.8 13.5h-15.5zM418.1 362.6l7.8 13.5h-15.5zM398.1 364.6l7.8 13.5h-15.5zM327.3 370.8l7.8 13.5h-15.5zM282.5 379.6l7.8 13.5h-15.5zM306.9 381.4l7.8 13.5h-15.5zM312.8 380.8l7.8 13.5h-15.5zM346.9 378.2l7.8 13.5h-15.5zM389.4 380.8l7.8 13.5h-15.5zM400.6 380.8l7.8 13.5h-15.5zM452.5 369.6l7.8 13.5h-15.5zM455 371.4l7.8 13.5h-15.5zM463.1 377.6l7.8 13.5h-15.5zM446.3 379.6l7.8 13.5h-15.5zM409.4 383.2l7.8 13.5h-15.5zM423.8 382.1l7.8 13.5h-15.5zM332.5 388.2l7.8 13.5h-15.5zM338.1 387.1l7.8 13.5h-15.5zM355 385.8l7.8 13.5h-15.5zM358.1 387.1l7.8 13.5h-15.5zM372.5 392.1l7.8 13.5h-15.5zM428.8 385.8l7.8 13.5h-15.5zM435 387.1l7.8 13.5h-15.5zM446.9 384.6l7.8 13.5h-15.5zM290.6 397.1l7.8 13.5h-15.5zM310 398.9l7.8 13.5h-15.5zM320.6 400.8l7.8 13.5h-15.5zM301.3 403.9l7.8 13.5h-15.5zM342.5 394.6l7.8 13.5h-15.5zM387.5 392.1l7.8 13.5h-15.5zM411.9 395.8l7.8 13.5h-15.5zM366.3 402.1l7.8 13.5h-15.5zM380.6 403.9l7.8 13.5h-15.5zM420.6 403.2l7.8 13.5h-15.5zM348.8 402.1l7.8 13.5h-15.5zM330 409.6l7.8 13.5h-15.5zM341.3 404.6l7.8 13.5h-15.5zM283.8 422.1l7.8 13.5h-15.5zM318.8 417.6l7.8 13.5h-15.5zM325 416.4l7.8 13.5h-15.5zM304.4 408.9l7.8 13.5h-15.5zM457.5 427.1l7.8 13.5h-15.5zM394 398.2l7.8 13.5h-15.5zM469.3 344.9l7.8 13.5h-15.5zM506.2 342.4l7.8 13.5h-15.5zM509.3 347.9l7.8 13.5h-15.5zM526.2 352.4l7.8 13.5h-15.5zM483.7 364.9l7.8 13.5h-15.5zM491.8 370.4l7.8 13.5h-15.5zM500.5 376.1l7.8 13.5h-15.5zM518.1 366.1l7.8 13.5h-15.5zM464.9 378.6l7.8 13.5h-15.5zM594.4 347.9l7.8 13.5h-15.5zM614.4 330.4l7.8 13.5h-15.5zM617.6 341.6l7.8 13.5h-15.5zM643.2 336.1l7.8 13.5h-15.5zM600.7 361.8l7.8 13.5h-15.5zM634.5 377.9l7.8 13.5h-15.5zM498 389.2l7.8 13.5h-15.5zM520.6 393.6l7.8 13.5h-15.5zM523.7 393.1l7.8 13.5h-15.5zM540.6 389.9l7.8 13.5h-15.5zM574.4 394.2l7.8 13.5h-15.5zM546.2 403.1l7.8 13.5h-15.5zM486.8 413.6l7.8 13.5h-15.5zM549.4 436.8l7.8 13.5h-15.5zM595 348.2l7.8 13.5h-15.5zM250 402.9l7.8 13.5h-15.5zM255.7 401.9l7.8 13.5h-15.5zM261.4 403.4l7.8 13.5h-15.5zM267.5 399.9l7.8 13.5h-15.5zM278.6 401.4l7.8 13.5h-15.5zM290.5 397.6l7.8 13.5h-15.5zM239.1 413.6l7.8 13.5h-15.5zM230.5 416.6l7.8 13.5h-15.5zM225 419.1l7.8 13.5h-15.5zM269.2 412.4l7.8 13.5h-15.5zM258.6 419.4l7.8 13.5h-15.5zM253.2 424.9l7.8 13.5h-15.5zM277.8 416.6l7.8 13.5h-15.5zM284.9 420.6l7.8 13.5h-15.5zM215.6 426.4l7.8 13.5h-15.5zM221.5 432.4l7.8 13.5h-15.5zM233.2 433.9l7.8 13.5h-15.5zM244.2 429.9l7.8 13.5h-15.5zM264.1 429.9l7.8 13.5h-15.5zM196 436.2l7.8 13.5h-15.5zM247.3 438.1l7.8 13.5h-15.5zM227 439.4l7.8 13.5h-15.5zM272.7 438.9l7.8 13.5h-15.5zM201.1 451.9l7.8 13.5h-15.5zM184.7 442.4l7.8 13.5h-15.5zM190.2 440.9l7.8 13.5h-15.5zM205.8 435.6l7.8 13.5h-15.5z"/>
<path d="M115.9 503.3L117.3 501.9L118.8 500.6L120.2 499.3L121.6 498L123 496.8L124.4 495.5L125.9 494.4L127.3 493.2L128.7 492.1L130.1 491L131.6 489.9L133 488.9L134.4 487.8L135.8 486.8L137.3 485.8L138.7 484.9L140.1 483.9L141.5 483L143 482L144.4 481.1L145.8 480.2L147.2 479.3L148.7 478.4L150.1 477.6L151.5 476.7L152.9 475.9L154.4 475L155.8 474.2L157.2 473.4L158.6 472.6L160.1 471.8L161.5 471L162.9 470.3L164.3 469.5L165.8 468.7L167.2 468L168.6 467.2L170 466.5L171.4 465.8L172.9 465.1L174.3 464.4L175.7 463.6L177.1 463L178.6 462.3L180 461.6L181.4 460.9L182.8 460.2L184.3 459.5L185.7 458.9L187.1 458.2L188.5 457.6L190 456.9L191.4 456.3L192.8 455.6L194.2 455L195.7 454.4L197.1 453.8L198.5 453.2L199.9 452.5L201.4 451.9L202.8 451.3L204.2 450.7L205.6 450.1L207.1 449.5L208.5 448.9L209.9 448.4L211.3 447.8L212.8 447.2L214.2 446.6L215.6 446.1L217 445.5L218.4 444.9L219.9 444.4L221.3 443.8L222.7 443.3L224.1 442.7L225.6 442.2L227 441.6L228.4 441.1L229.8 440.6L231.3 440L232.7 439.5L234.1 439L235.5 438.4L237 437.9L238.4 437.4L239.8 436.9L241.2 436.4L242.7 435.9L244.1 435.4L245.5 434.8L246.9 434.3L248.4 433.8L249.8 433.3L251.2 432.9L252.6 432.4L254.1 431.9L255.5 431.4L256.9 430.9L258.3 430.4L259.8 429.9L261.2 429.5L262.6 429L264 428.5L265.4 428L266.9 427.6L268.3 427.1L269.7 426.6L271.1 426.2L272.6 425.7L274 425.2L275.4 424.8L276.8 424.3L278.3 423.9L279.7 423.4L281.1 423L282.5 422.5L284 422.1L285.4 421.6L286.8 421.2L288.2 420.7L289.7 420.3L291.1 419.9L292.5 419.4L293.9 419L295.4 418.5L296.8 418.1L298.2 417.7L299.6 417.3L301.1 416.8L302.5 416.4L303.9 416L305.3 415.6L306.8 415.1L308.2 414.7L309.6 414.3L311 413.9L312.4 413.5L313.9 413.1L315.3 412.6L316.7 412.2L318.1 411.8L319.6 411.4L321 411L322.4 410.6L323.8 410.2L325.3 409.8L326.7 409.4L328.1 409L329.5 408.6L331 408.2L332.4 407.8L333.8 407.4L335.2 407L336.7 406.6L338.1 406.2L339.5 405.9L340.9 405.5L342.4 405.1L343.8 404.7L345.2 404.3L346.6 403.9L348.1 403.5L349.5 403.2L350.9 402.8L352.3 402.4L353.8 402L355.2 401.6L356.6 401.3L358 400.9L359.4 400.5L360.9 400.1L362.3 399.8L363.7 399.4L365.1 399L366.6 398.7L368 398.3L369.4 397.9L370.8 397.6L372.3 397.2L373.7 396.8L375.1 396.5L376.5 396.1L378 395.8L379.4 395.4L380.8 395L382.2 394.7L383.7 394.3L385.1 394L386.5 393.6L387.9 393.3L389.4 392.9L390.8 392.6L392.2 392.2L393.6 391.9L395.1 391.5L396.5 391.2L397.9 390.8L399.3 390.5L400.8 390.1L402.2 389.8L403.6 389.4L405 389.1L406.5 388.8L407.9 388.4L409.3 388.1L410.7 387.7L412.1 387.4L413.6 387.1L415 386.7L416.4 386.4L417.8 386.1L419.3 385.7L420.7 385.4L422.1 385.1L423.5 384.7L425 384.4L426.4 384.1L427.8 383.7L429.2 383.4L430.7 383.1L432.1 382.7L433.5 382.4L434.9 382.1L436.4 381.8L437.8 381.4L439.2 381.1L440.6 380.8L442.1 380.5L443.5 380.1L444.9 379.8L446.3 379.5L447.8 379.2L449.2 378.9L450.6 378.6L452 378.2L453.5 377.9L454.9 377.6L456.3 377.3L457.7 377L459.1 376.7L460.6 376.3L462 376L463.4 375.7L464.8 375.4L466.3 375.1L467.7 374.8L469.1 374.5L470.5 374.2L472 373.9L473.4 373.5L474.8 373.2L476.2 372.9L477.7 372.6L479.1 372.3L480.5 372L481.9 371.7L483.4 371.4L484.8 371.1L486.2 370.8L487.6 370.5L489.1 370.2L490.5 369.9L491.9 369.6L493.3 369.3L494.8 369L496.2 368.7L497.6 368.4L499 368.1L500.5 367.8L501.9 367.5L503.3 367.2L504.7 366.9L506.1 366.6L507.6 366.3L509 366L510.4 365.8L511.8 365.5L513.3 365.2L514.7 364.9L516.1 364.6L517.5 364.3L519 364L520.4 363.7L521.8 363.4L523.2 363.1L524.7 362.9L526.1 362.6L527.5 362.3L528.9 362L530.4 361.7L531.8 361.4L533.2 361.1L534.6 360.9L536.1 360.6L537.5 360.3L538.9 360L540.3 359.7L541.8 359.4L543.2 359.2L544.6 358.9L546 358.6L547.5 358.3L548.9 358L550.3 357.8L551.7 357.5L553.1 357.2L554.6 356.9L556 356.7L557.4 356.4L558.8 356.1L560.3 355.8L561.7 355.6L563.1 355.3L564.5 355L566 354.7L567.4 354.5L568.8 354.2L570.2 353.9L571.7 353.6L573.1 353.4L574.5 353.1L575.9 352.8L577.4 352.6L578.8 352.3L580.2 352L581.6 351.8L583.1 351.5L584.5 351.2L585.9 350.9L587.3 350.7L588.8 350.4L590.2 350.1L591.6 349.9L593 349.6L594.5 349.4L595.9 349.1L597.3 348.8L598.7 348.6L600.1 348.3L601.6 348L603 347.8L604.4 347.5L605.8 347.2L607.3 347L608.7 346.7L610.1 346.5L611.5 346.2L613 345.9L614.4 345.7L615.8 345.4L617.2 345.2L618.7 344.9L620.1 344.6L621.5 344.4L622.9 344.1L624.4 343.9L625.8 343.6L627.2 343.4L628.6 343.1L630.1 342.9L631.5 342.6L632.9 342.3L634.3 342.1L635.8 341.8L637.2 341.6L638.6 341.3L640 341.1L641.5 340.8L642.9 340.6L644.3 340.3L645.7 340.1L647.1 339.8L648.6 339.6L650 339.3L651.4 339.1L652.8 338.8L654.3 338.6L655.7 338.3L657.1 338.1L658.5 337.8L660 337.6L661.4 337.3L662.8 337.1L663.1 337" fill="none" stroke="#434a6c" stroke-width="2.8" stroke-dasharray="23 14"/>
<path d="M115.9 498.2L117.3 497.1L118.8 496L120.2 495L121.6 494L123 493L124.4 492.1L125.9 491.2L127.3 490.3L128.7 489.5L130.1 488.6L131.6 487.8L133 487L134.4 486.3L135.8 485.5L137.3 484.8L138.7 484.1L140.1 483.4L141.5 482.7L143 482L144.4 481.3L145.8 480.7L147.2 480L148.7 479.4L150.1 478.8L151.5 478.2L152.9 477.6L154.4 477L155.8 476.4L157.2 475.9L158.6 475.3L160.1 474.7L161.5 474.2L162.9 473.7L164.3 473.1L165.8 472.6L167.2 472.1L168.6 471.6L170 471.1L171.4 470.6L172.9 470.1L174.3 469.6L175.7 469.1L177.1 468.6L178.6 468.2L180 467.7L181.4 467.3L182.8 466.8L184.3 466.3L185.7 465.9L187.1 465.5L188.5 465L190 464.6L191.4 464.2L192.8 463.7L194.2 463.3L195.7 462.9L197.1 462.5L198.5 462.1L199.9 461.7L201.4 461.3L202.8 460.9L204.2 460.5L205.6 460.1L207.1 459.7L208.5 459.3L209.9 459L211.3 458.6L212.8 458.2L214.2 457.8L215.6 457.5L217 457.1L218.4 456.7L219.9 456.4L221.3 456L222.7 455.7L224.1 455.3L225.6 455L227 454.6L228.4 454.3L229.8 453.9L231.3 453.6L232.7 453.3L234.1 452.9L235.5 452.6L237 452.3L238.4 451.9L239.8 451.6L241.2 451.3L242.7 451L244.1 450.6L245.5 450.3L246.9 450L248.4 449.7L249.8 449.4L251.2 449.1L252.6 448.8L254.1 448.5L255.5 448.1L256.9 447.8L258.3 447.5L259.8 447.2L261.2 446.9L262.6 446.6L264 446.4L265.4 446.1L266.9 445.8L268.3 445.5L269.7 445.2L271.1 444.9L272.6 444.6L274 444.3L275.4 444.1L276.8 443.8L278.3 443.5L279.7 443.2L281.1 442.9L282.5 442.7L284 442.4L285.4 442.1L286.8 441.9L288.2 441.6L289.7 441.3L291.1 441L292.5 440.8L293.9 440.5L295.4 440.3L296.8 440L298.2 439.7L299.6 439.5L301.1 439.2L302.5 439L303.9 438.7L305.3 438.4L306.8 438.2L308.2 437.9L309.6 437.7L311 437.4L312.4 437.2L313.9 436.9L315.3 436.7L316.7 436.4L318.1 436.2L319.6 436L321 435.7L322.4 435.5L323.8 435.2L325.3 435L326.7 434.8L328.1 434.5L329.5 434.3L331 434L332.4 433.8L333.8 433.6L335.2 433.3L336.7 433.1L338.1 432.9L339.5 432.6L340.9 432.4L342.4 432.2L343.8 432L345.2 431.7L346.6 431.5L348.1 431.3L349.5 431.1L350.9 430.8L352.3 430.6L353.8 430.4L355.2 430.2L356.6 429.9L358 429.7L359.4 429.5L360.9 429.3L362.3 429.1L363.7 428.9L365.1 428.6L366.6 428.4L368 428.2L369.4 428L370.8 427.8L372.3 427.6L373.7 427.4L375.1 427.2L376.5 426.9L378 426.7L379.4 426.5L380.8 426.3L382.2 426.1L383.7 425.9L385.1 425.7L386.5 425.5L387.9 425.3L389.4 425.1L390.8 424.9L392.2 424.7L393.6 424.5L395.1 424.3L396.5 424.1L397.9 423.9L399.3 423.7L400.8 423.5L402.2 423.3L403.6 423.1L405 422.9L406.5 422.7L407.9 422.5L409.3 422.3L410.7 422.1L412.1 421.9L413.6 421.7L415 421.5L416.4 421.3L417.8 421.1L419.3 421L420.7 420.8L422.1 420.6L423.5 420.4L425 420.2L426.4 420L427.8 419.8L429.2 419.6L430.7 419.4L432.1 419.3L433.5 419.1L434.9 418.9L436.4 418.7L437.8 418.5L439.2 418.3L440.6 418.1L442.1 418L443.5 417.8L444.9 417.6L446.3 417.4L447.8 417.2L449.2 417.1L450.6 416.9L452 416.7L453.5 416.5L454.9 416.3L456.3 416.2L457.7 416L459.1 415.8L460.6 415.6L462 415.5L463.4 415.3L464.8 415.1L466.3 414.9L467.7 414.8L469.1 414.6L470.5 414.4L472 414.2L473.4 414.1L474.8 413.9L476.2 413.7L477.7 413.6L479.1 413.4L480.5 413.2L481.9 413L483.4 412.9L484.8 412.7L486.2 412.5L487.6 412.4L489.1 412.2L490.5 412L491.9 411.9L493.3 411.7L494.8 411.5L496.2 411.4L497.6 411.2L499 411L500.5 410.9L501.9 410.7L503.3 410.5L504.7 410.4L506.1 410.2L507.6 410.1L509 409.9L510.4 409.7L511.8 409.6L513.3 409.4L514.7 409.2L516.1 409.1L517.5 408.9L519 408.8L520.4 408.6L521.8 408.4L523.2 408.3L524.7 408.1L526.1 408L527.5 407.8L528.9 407.7L530.4 407.5L531.8 407.3L533.2 407.2L534.6 407L536.1 406.9L537.5 406.7L538.9 406.6L540.3 406.4L541.8 406.3L543.2 406.1L544.6 405.9L546 405.8L547.5 405.6L548.9 405.5L550.3 405.3L551.7 405.2L553.1 405L554.6 404.9L556 404.7L557.4 404.6L558.8 404.4L560.3 404.3L561.7 404.1L563.1 404L564.5 403.8L566 403.7L567.4 403.5L568.8 403.4L570.2 403.2L571.7 403.1L573.1 402.9L574.5 402.8L575.9 402.6L577.4 402.5L578.8 402.4L580.2 402.2L581.6 402.1L583.1 401.9L584.5 401.8L585.9 401.6L587.3 401.5L588.8 401.3L590.2 401.2L591.6 401L593 400.9L594.5 400.8L595.9 400.6L597.3 400.5L598.7 400.3L600.1 400.2L601.6 400L603 399.9L604.4 399.8L605.8 399.6L607.3 399.5L608.7 399.3L610.1 399.2L611.5 399.1L613 398.9L614.4 398.8L615.8 398.6L617.2 398.5L618.7 398.4L620.1 398.2L621.5 398.1L622.9 397.9L624.4 397.8L625.8 397.7L627.2 397.5L628.6 397.4L630.1 397.3L631.5 397.1L632.9 397L634.3 396.9L635.8 396.7L637.2 396.6L638.6 396.4L640 396.3L641.5 396.2L642.9 396L644.3 395.9L645.7 395.8L647.1 395.6L648.6 395.5L650 395.4L651.4 395.2L652.8 395.1L654.3 395L655.7 394.8L657.1 394.7L658.5 394.6L660 394.4L661.4 394.3L662.8 394.2L663.1 394.1" fill="none" stroke="#4cb8e8" stroke-width="2.8" stroke-dasharray="18 7 5 7"/>
<path d="M107.8 529.4L109.2 528.9L110.7 528.3L112.1 527.8L113.5 527.2L114.9 526.6L116.4 526L117.8 525.4L119.2 524.7L120.6 524.1L122.1 523.4L123.5 522.7L124.9 522L126.3 521.3L127.8 520.6L129.2 519.8L130.6 519.1L132 518.3L133.4 517.5L134.9 516.6L136.3 515.8L137.7 514.9L139.1 514.1L140.6 513.1L142 512.2L143.4 511.3L144.8 510.3L146.3 509.3L147.7 508.3L149.1 507.2L150.5 506.1L152 505L153.4 503.9L154.8 502.8L156.2 501.6L157.7 500.4L159.1 499.1L160.5 497.9L161.9 496.6L163.4 495.3L164.8 493.9L166.2 492.5L167.6 491.1L169.1 489.6L170.5 488.1L171.9 486.6L173.3 485L174.8 483.4L176.2 481.8L177.6 480.1L179 478.4L180.5 476.6L181.9 474.8L183.3 472.9L184.7 471L186.1 469.1L187.6 467.1L189 465.1L190.4 463L191.8 460.9L193.3 458.7L194.7 456.4L196.1 454.1L197.5 451.8L199 449.4L200.4 446.9L201.8 444.4L203.2 441.8L204.7 439.2L206.1 436.5L207.5 433.7L208.9 430.9L210.4 428L211.8 425L213.2 422L214.6 418.8L216.1 415.6L217.5 412.4L218.9 409L220.3 405.6L221.8 402.1L223.2 398.5L224.6 394.8L226 391L227.5 387.2L228.9 383.2L230.3 379.2L231.7 375L233.1 370.8L234.6 366.4L236 362L237.4 357.4L238.8 352.8L240.3 348L241.7 343.1L243.1 338.1L244.5 332.9L246 327.7L247.4 322.3L248.8 316.8L250.2 311.1L251.7 305.4L253.1 299.4L254.5 293.4L255.9 287.2L257.4 280.8L258.8 274.3L260.2 267.7L261.6 260.8L263.1 253.8L264.5 246.7L265.9 239.4L267.3 231.9L268.8 224.2L270.2 216.3L271.6 208.3L273 200L274.5 191.6L275.9 182.9L277.3 174.1L278.7 165" fill="none" stroke="#f0469a" stroke-width="2.8" />
<g fill="#0000ff"><circle cx="1195.6" cy="510.8" r="5.7"/><circle cx="1207.5" cy="517.1" r="5.7"/><circle cx="1231.2" cy="506.5" r="5.7"/><circle cx="1239.8" cy="496.5" r="5.7"/><circle cx="1242.6" cy="509.4" r="5.7"/><circle cx="1249.7" cy="490.8" r="5.7"/><circle cx="1259.7" cy="498" r="5.7"/><circle cx="1258.3" cy="506.5" r="5.7"/><circle cx="1265.4" cy="493.7" r="5.7"/><circle cx="1271.1" cy="493.7" r="5.7"/><circle cx="1272.6" cy="505.1" r="5.7"/><circle cx="1272.6" cy="513.7" r="5.7"/><circle cx="1281.1" cy="516.5" r="5.7"/><circle cx="1285.4" cy="516.5" r="5.7"/><circle cx="1292.5" cy="520.8" r="5.7"/><circle cx="1291.1" cy="486.6" r="5.7"/><circle cx="1309.6" cy="503.7" r="5.7"/><circle cx="1244" cy="490.8" r="5.7"/><circle cx="1235.5" cy="499.4" r="5.7"/><circle cx="1278.3" cy="512.2" r="5.7"/></g>
<path fill="#000000" d="M963.2 224.8l6.9 12h-13.8zM981.7 285.2l6.9 12h-13.8zM1031.6 278.1l6.9 12h-13.8zM1033 306.6l6.9 12h-13.8zM1054.4 296.7l6.9 12h-13.8zM1063 310.3l6.9 12h-13.8zM1077.2 305.8l6.9 12h-13.8zM1088.6 236.8l6.9 12h-13.8zM1107.2 259.6l6.9 12h-13.8zM1090.1 275.3l6.9 12h-13.8zM1082.1 287.5l6.9 12h-13.8zM1108.6 315.2l6.9 12h-13.8zM1112.3 323.7l6.9 12h-13.8zM1092.3 382.2l6.9 12h-13.8zM1094.3 390.7l6.9 12h-13.8zM1122.9 387l6.9 12h-13.8zM1127.7 387l6.9 12h-13.8zM1155.6 377.9l6.9 12h-13.8zM1138 411.3l6.9 12h-13.8zM1157.9 404.4l6.9 12h-13.8zM1165.6 430.7l6.9 12h-13.8zM1171.3 445.5l6.9 12h-13.8zM1187 432.1l6.9 12h-13.8zM1194.1 452.1l6.9 12h-13.8zM1180.7 460.6l6.9 12h-13.8zM1208.4 427.8l6.9 12h-13.8zM1208.4 462l6.9 12h-13.8zM1209 469.2l6.9 12h-13.8zM1228.4 472l6.9 12h-13.8zM1235.5 477.7l6.9 12h-13.8zM1254 466.3l6.9 12h-13.8z"/>
<path fill="#f0469a" d="M810.6 474.6h8.6v8.6h-8.6zM820.6 479.4h8.6v8.6h-8.6zM824.9 481.4h8.6v8.6h-8.6zM836.3 453.2h8.6v8.6h-8.6zM840.5 470.9h8.6v8.6h-8.6zM850 446.6h8.6v8.6h-8.6zM849.1 493.1h8.6v8.6h-8.6zM859.1 472.9h8.6v8.6h-8.6zM860.5 480.8h8.6v8.6h-8.6zM861.9 465.2h8.6v8.6h-8.6zM866.2 489.4h8.6v8.6h-8.6zM868.5 495.1h8.6v8.6h-8.6zM870.5 476.6h8.6v8.6h-8.6zM873.3 461.5h8.6v8.6h-8.6zM880.5 492.2h8.6v8.6h-8.6zM883.3 468.9h8.6v8.6h-8.6zM886.2 480h8.6v8.6h-8.6zM889 470.9h8.6v8.6h-8.6zM895.3 444.6h8.6v8.6h-8.6zM918.1 466h8.6v8.6h-8.6zM947.5 454.6h8.6v8.6h-8.6zM950.3 447.2h8.6v8.6h-8.6zM968.9 496.5h8.6v8.6h-8.6zM979.4 460.3h8.6v8.6h-8.6zM1024.5 502.8h8.6v8.6h-8.6zM857.6 475.1h8.6v8.6h-8.6z"/>
<path fill="none" stroke="#4cb8e8" stroke-width="2.3"  d="M874.8 412.1l6.6 8.9l-6.6 8.9l-6.6 -8.9zM869.1 437.7l6.6 8.9l-6.6 8.9l-6.6 -8.9zM872.8 457.7l6.6 8.9l-6.6 8.9l-6.6 -8.9zM1101.5 380.7l6.6 8.9l-6.6 8.9l-6.6 -8.9zM1108.6 365l6.6 8.9l-6.6 8.9l-6.6 -8.9zM1114.3 357.9l6.6 8.9l-6.6 8.9l-6.6 -8.9zM932 339.7l6.6 8.9l-6.6 8.9l-6.6 -8.9zM1000.8 362.7l6.6 8.9l-6.6 8.9l-6.6 -8.9zM1011.5 339.2l6.6 8.9l-6.6 8.9l-6.6 -8.9zM1016.3 364.9l6.6 8.9l-6.6 8.9l-6.6 -8.9zM1027.1 358.3l6.6 8.9l-6.6 8.9l-6.6 -8.9zM1051.7 345.2l6.6 8.9l-6.6 8.9l-6.6 -8.9zM1078 356.1l6.6 8.9l-6.6 8.9l-6.6 -8.9zM1094.4 354l6.6 8.9l-6.6 8.9l-6.6 -8.9zM1093.9 338.6l6.6 8.9l-6.6 8.9l-6.6 -8.9zM1071.4 368.2l6.6 8.9l-6.6 8.9l-6.6 -8.9zM1074.7 387.4l6.6 8.9l-6.6 8.9l-6.6 -8.9zM1061.6 407.6l6.6 8.9l-6.6 8.9l-6.6 -8.9zM1045.7 406l6.6 8.9l-6.6 8.9l-6.6 -8.9zM1042.4 375.9l6.6 8.9l-6.6 8.9l-6.6 -8.9zM1052.2 378.1l6.6 8.9l-6.6 8.9l-6.6 -8.9zM1032.5 382.4l6.6 8.9l-6.6 8.9l-6.6 -8.9zM1027.1 380.2l6.6 8.9l-6.6 8.9l-6.6 -8.9zM1007.3 384.6l6.6 8.9l-6.6 8.9l-6.6 -8.9zM1015 389l6.6 8.9l-6.6 8.9l-6.6 -8.9zM925.2 398.9l6.6 8.9l-6.6 8.9l-6.6 -8.9zM932.3 402.2l6.6 8.9l-6.6 8.9l-6.6 -8.9zM955.3 398.9l6.6 8.9l-6.6 8.9l-6.6 -8.9zM948.2 408.7l6.6 8.9l-6.6 8.9l-6.6 -8.9zM957 408.7l6.6 8.9l-6.6 8.9l-6.6 -8.9zM935 416.4l6.6 8.9l-6.6 8.9l-6.6 -8.9zM937.2 424.1l6.6 8.9l-6.6 8.9l-6.6 -8.9zM912.3 417.5l6.6 8.9l-6.6 8.9l-6.6 -8.9zM903.3 423l6.6 8.9l-6.6 8.9l-6.6 -8.9zM936.1 432.8l6.6 8.9l-6.6 8.9l-6.6 -8.9zM938.3 438.3l6.6 8.9l-6.6 8.9l-6.6 -8.9zM972.3 406.5l6.6 8.9l-6.6 8.9l-6.6 -8.9zM981.1 397.8l6.6 8.9l-6.6 8.9l-6.6 -8.9zM978.9 410.9l6.6 8.9l-6.6 8.9l-6.6 -8.9zM963.5 431.7l6.6 8.9l-6.6 8.9l-6.6 -8.9zM967.9 437.2l6.6 8.9l-6.6 8.9l-6.6 -8.9zM967.9 450.3l6.6 8.9l-6.6 8.9l-6.6 -8.9zM976.7 419.7l6.6 8.9l-6.6 8.9l-6.6 -8.9zM981.1 425.2l6.6 8.9l-6.6 8.9l-6.6 -8.9zM983.2 430.6l6.6 8.9l-6.6 8.9l-6.6 -8.9zM987.6 436.1l6.6 8.9l-6.6 8.9l-6.6 -8.9zM980 439.4l6.6 8.9l-6.6 8.9l-6.6 -8.9zM986.5 441.6l6.6 8.9l-6.6 8.9l-6.6 -8.9zM993.1 391.2l6.6 8.9l-6.6 8.9l-6.6 -8.9zM996.4 404.3l6.6 8.9l-6.6 8.9l-6.6 -8.9zM1000.8 415.3l6.6 8.9l-6.6 8.9l-6.6 -8.9zM1001.9 436.1l6.6 8.9l-6.6 8.9l-6.6 -8.9zM1011.7 440.5l6.6 8.9l-6.6 8.9l-6.6 -8.9zM1013.9 426.2l6.6 8.9l-6.6 8.9l-6.6 -8.9zM1007.3 408.7l6.6 8.9l-6.6 8.9l-6.6 -8.9zM1016.1 402.2l6.6 8.9l-6.6 8.9l-6.6 -8.9zM1022.7 397.8l6.6 8.9l-6.6 8.9l-6.6 -8.9zM1026 410.9l6.6 8.9l-6.6 8.9l-6.6 -8.9zM1031.4 397.8l6.6 8.9l-6.6 8.9l-6.6 -8.9zM1033.6 415.3l6.6 8.9l-6.6 8.9l-6.6 -8.9zM1027.1 419.7l6.6 8.9l-6.6 8.9l-6.6 -8.9zM1021.6 416.4l6.6 8.9l-6.6 8.9l-6.6 -8.9zM1005.1 419.7l6.6 8.9l-6.6 8.9l-6.6 -8.9zM1009.5 425.2l6.6 8.9l-6.6 8.9l-6.6 -8.9zM1039.1 400l6.6 8.9l-6.6 8.9l-6.6 -8.9zM995.3 426.2l6.6 8.9l-6.6 8.9l-6.6 -8.9zM970.1 419.7l6.6 8.9l-6.6 8.9l-6.6 -8.9zM975.6 430.6l6.6 8.9l-6.6 8.9l-6.6 -8.9zM976.7 395.6l6.6 8.9l-6.6 8.9l-6.6 -8.9zM980 400l6.6 8.9l-6.6 8.9l-6.6 -8.9zM983.2 397.8l6.6 8.9l-6.6 8.9l-6.6 -8.9zM985.4 404.3l6.6 8.9l-6.6 8.9l-6.6 -8.9zM978.9 405.4l6.6 8.9l-6.6 8.9l-6.6 -8.9zM975.6 402.2l6.6 8.9l-6.6 8.9l-6.6 -8.9zM976.7 430.6l6.6 8.9l-6.6 8.9l-6.6 -8.9zM983.2 436.1l6.6 8.9l-6.6 8.9l-6.6 -8.9zM981.1 432.8l6.6 8.9l-6.6 8.9l-6.6 -8.9zM987.6 428.4l6.6 8.9l-6.6 8.9l-6.6 -8.9zM1022.7 386.8l6.6 8.9l-6.6 8.9l-6.6 -8.9zM1029.2 389l6.6 8.9l-6.6 8.9l-6.6 -8.9zM1026 392.3l6.6 8.9l-6.6 8.9l-6.6 -8.9zM1033.6 391.2l6.6 8.9l-6.6 8.9l-6.6 -8.9zM1020.5 400l6.6 8.9l-6.6 8.9l-6.6 -8.9zM1028.1 404.3l6.6 8.9l-6.6 8.9l-6.6 -8.9zM1004.1 414.2l6.6 8.9l-6.6 8.9l-6.6 -8.9zM1011.7 417.5l6.6 8.9l-6.6 8.9l-6.6 -8.9zM972.3 410.9l6.6 8.9l-6.6 8.9l-6.6 -8.9zM996.4 397.8l6.6 8.9l-6.6 8.9l-6.6 -8.9z"/>
<path fill="none" stroke="#f23838" stroke-width="2.4"  d="M1100.2 398.2h14M1107.2 391.2v14M1103 355.4h14M1110 348.4v14M1125.8 420.1h14M1132.8 413.1v14M1131.5 361.1h14M1138.5 354.1v14M1150.1 395.3h14M1157.1 388.3v14M1154.4 344h14M1161.4 337v14M1199.4 386.8h14M1206.4 379.8v14M1073.1 324.9h14M1080.1 317.9v14M915.5 393.5h14M922.5 386.5v14M954.3 362.3h14M961.3 355.3v14M953 371.4h14M960 364.4v14M953 379.8h14M960 372.8v14M992.1 346.4h14M999.1 339.4v14M995.4 350.3h14M1002.4 343.3v14M976.8 397.4h14M983.8 390.4v14M980.6 391.9h14M987.6 384.9v14M983.9 391.9h14M990.9 384.9v14M984.8 411.6h14M991.8 404.6v14M1002 402.3h14M1009 395.3v14M1005.3 390.2h14M1012.3 383.2v14M1017.3 373.8h14M1024.3 366.8v14M1022.8 378.7h14M1029.8 371.7v14M1031 411.6h14M1038 404.6v14M1042.8 384.2h14M1049.8 377.2v14M1051.8 350.8h14M1058.8 343.8v14M1063.3 352.5h14M1070.3 345.5v14M1078.1 356.3h14M1085.1 349.3v14M1084.1 338.8h14M1091.1 331.8v14M1072.6 370h14M1079.6 363v14M1084.1 372.7h14M1091.1 365.7v14M1053.8 378.7h14M1060.8 371.7v14M1063.9 385.9h14M1070.9 378.9v14M1055.1 402.3h14M1062.1 395.3v14M1059.5 401.2h14M1066.5 394.2v14M1076.5 403.9h14M1083.5 396.9v14M1045.8 436.2h14M1052.8 429.2v14M1067.2 445h14M1074.2 438v14M1090.2 384.8h14M1097.2 377.8v14"/>
<path d="M955.5 212L1240.6 485.1" fill="none" stroke="#000000" stroke-width="2.8" stroke-dasharray="23 14"/>
<path d="M860.5 452.3L1145.7 365" fill="none" stroke="#4cb8e8" stroke-width="2.8" />
<g fill="none" stroke="#0000ff" stroke-width="2.3"><circle cx="1465.3" cy="308.1" r="5.9"/><circle cx="1474.3" cy="308.1" r="5.9"/><circle cx="1469.8" cy="293.9" r="5.9"/><circle cx="1479.5" cy="290" r="5.9"/><circle cx="1483.4" cy="281.6" r="5.9"/><circle cx="1494.4" cy="281.6" r="5.9"/><circle cx="1488.6" cy="269.3" r="5.9"/><circle cx="1499" cy="268.6" r="5.9"/><circle cx="1503.5" cy="256.9" r="5.9"/><circle cx="1512.6" cy="260.2" r="5.9"/><circle cx="1517.8" cy="247.2" r="5.9"/><circle cx="1521.7" cy="249.2" r="5.9"/><circle cx="1526.2" cy="261.5" r="5.9"/><circle cx="1536.6" cy="247.2" r="5.9"/><circle cx="1532" cy="265.4" r="5.9"/><circle cx="1542.4" cy="260.2" r="5.9"/><circle cx="1547.6" cy="265.4" r="5.9"/><circle cx="1551.5" cy="267.3" r="5.9"/><circle cx="1559.9" cy="288" r="5.9"/><circle cx="1563.8" cy="297.1" r="5.9"/><circle cx="1569.6" cy="302.3" r="5.9"/><circle cx="1583.9" cy="317.9" r="5.9"/><circle cx="1510" cy="265.4" r="5.9"/><circle cx="1574.3" cy="335.6" r="5.9"/><circle cx="1579.1" cy="340.3" r="5.9"/><circle cx="1588.5" cy="350.1" r="5.9"/><circle cx="1598.2" cy="374" r="5.9"/><circle cx="1593.2" cy="381.8" r="5.9"/><circle cx="1617.1" cy="399.4" r="5.9"/><circle cx="1621.8" cy="405.4" r="5.9"/><circle cx="1607.7" cy="408.6" r="5.9"/><circle cx="1613" cy="408.6" r="5.9"/><circle cx="1603" cy="421.2" r="5.9"/><circle cx="1636.6" cy="419" r="5.9"/><circle cx="1626.6" cy="443.2" r="5.9"/><circle cx="1631.3" cy="451.4" r="5.9"/><circle cx="1640.7" cy="446.3" r="5.9"/><circle cx="1650.1" cy="455.8" r="5.9"/><circle cx="1654.6" cy="461.4" r="5.9"/><circle cx="1659.6" cy="459.8" r="5.9"/><circle cx="1664.6" cy="463.9" r="5.9"/><circle cx="1670.6" cy="456.1" r="5.9"/><circle cx="1674.4" cy="443.2" r="5.9"/><circle cx="1645.4" cy="479" r="5.9"/></g>
<path fill="#f23838" d="M1465.3 319l7.8 13.3h-15.5zM1469.8 317l7.8 13.3h-15.5zM1474.3 315.7l7.8 13.3h-15.5zM1478.9 313.2l7.8 13.3h-15.5zM1484.1 308.6l7.8 13.3h-15.5zM1489.3 297.6l7.8 13.3h-15.5zM1494.4 297.6l7.8 13.3h-15.5zM1503.5 294.4l7.8 13.3h-15.5zM1510.6 267.1l7.8 13.3h-15.5zM1498.3 280.1l7.8 13.3h-15.5zM1521.7 284l7.8 13.3h-15.5zM1517.8 278.8l7.8 13.3h-15.5zM1526.8 272.3l7.8 13.3h-15.5zM1536.6 297l7.8 13.3h-15.5zM1532 254.8l7.8 13.3h-15.5zM1542.4 254.2l7.8 13.3h-15.5zM1550.8 252.2l7.8 13.3h-15.5zM1560.5 247.7l7.8 13.3h-15.5zM1552.8 258.1l7.8 13.3h-15.5zM1564.4 256.8l7.8 13.3h-15.5zM1583.9 265.8l7.8 13.3h-15.5zM1570.3 278.2l7.8 13.3h-15.5zM1580 278.2l7.8 13.3h-15.5zM1574.8 287.2l7.8 13.3h-15.5zM1589.1 303.4l7.8 13.3h-15.5zM1593.6 232.8l7.8 13.3h-15.5zM1599.4 252.2l7.8 13.3h-15.5zM1608.5 254.8l7.8 13.3h-15.5zM1612.4 252.2l7.8 13.3h-15.5zM1616.9 284l7.8 13.3h-15.5zM1622.1 277.5l7.8 13.3h-15.5zM1626.6 285.3l7.8 13.3h-15.5zM1631.2 238.6l7.8 13.3h-15.5zM1635.7 262l7.8 13.3h-15.5zM1645.4 265.8l7.8 13.3h-15.5zM1639.6 269.1l7.8 13.3h-15.5zM1650 244.5l7.8 13.3h-15.5zM1659.7 261.3l7.8 13.3h-15.5zM1655.2 307.3l7.8 13.3h-15.5zM1664.9 218.5l7.8 13.3h-15.5zM1669.4 237.3l7.8 13.3h-15.5zM1679.1 252.2l7.8 13.3h-15.5zM1683.7 265.8l7.8 13.3h-15.5zM1674 269.7l7.8 13.3h-15.5zM1688.2 219.8l7.8 13.3h-15.5zM1693.4 284.6l7.8 13.3h-15.5zM1697.3 298.9l7.8 13.3h-15.5zM1460.7 320.9l7.8 13.3h-15.5zM1472.4 313.2l7.8 13.3h-15.5zM1481.5 310.6l7.8 13.3h-15.5zM1740.5 166l7.8 13.3h-15.5zM1702.6 232.9l7.8 13.3h-15.5zM1707.3 245.8l7.8 13.3h-15.5zM1726.3 235.8l7.8 13.3h-15.5zM1745.2 227.8l7.8 13.3h-15.5zM1759.5 241.4l7.8 13.3h-15.5zM1717 264.4l7.8 13.3h-15.5zM1735.9 268l7.8 13.3h-15.5zM1749.2 265.7l7.8 13.3h-15.5zM1755.1 261.3l7.8 13.3h-15.5zM1711.9 279.7l7.8 13.3h-15.5zM1721.5 284.4l7.8 13.3h-15.5zM1731.2 302l7.8 13.3h-15.5zM1764.2 207.2l7.8 13.3h-15.5zM1774 203.2l7.8 13.3h-15.5zM1769.1 217.2l7.8 13.3h-15.5zM1797.4 205.9l7.8 13.3h-15.5zM1783.2 239.1l7.8 13.3h-15.5zM1792.8 248l7.8 13.3h-15.5zM1802.1 233.1l7.8 13.3h-15.5zM1811.7 247.8l7.8 13.3h-15.5zM1807 262.4l7.8 13.3h-15.5zM1778.4 275.4l7.8 13.3h-15.5zM1788 279.7l7.8 13.3h-15.5zM1816.3 221.8l7.8 13.3h-15.5zM1830.6 215.2l7.8 13.3h-15.5zM1840.3 221.8l7.8 13.3h-15.5zM1825.9 233.8l7.8 13.3h-15.5zM1849.8 239.8l7.8 13.3h-15.5zM1844.9 256l7.8 13.3h-15.5zM1859.3 269.3l7.8 13.3h-15.5zM1864.2 277l7.8 13.3h-15.5zM1873.5 248.8l7.8 13.3h-15.5zM1878.2 251.8l7.8 13.3h-15.5zM1882.8 227.6l7.8 13.3h-15.5zM1892.5 230.5l7.8 13.3h-15.5zM1835.3 294.3l7.8 13.3h-15.5zM1821.2 307.6l7.8 13.3h-15.5zM1854.5 307l7.8 13.3h-15.5zM1868.6 297.3l7.8 13.3h-15.5z"/>
<path d="M1418.1 283.2H1987.2" stroke="#000" stroke-width="3" stroke-dasharray="23 14"/>
<g fill="none" stroke="#0000ff" stroke-width="2.3"><circle cx="318.7" cy="976" r="9.2"/><circle cx="278.4" cy="1036.9" r="7.7"/><circle cx="344.6" cy="1050.4" r="7.4"/><circle cx="256.3" cy="1086.3" r="7.7"/><circle cx="277.5" cy="1093.7" r="5.9"/><circle cx="310.2" cy="1079.9" r="6.2"/><circle cx="326.1" cy="1081" r="6.9"/><circle cx="335.8" cy="1079.6" r="5.9"/><circle cx="352.9" cy="1067.2" r="5.5"/><circle cx="361.7" cy="1072.2" r="5.5"/><circle cx="365.2" cy="1085.5" r="5.5"/><circle cx="381.4" cy="1068.7" r="5.9"/><circle cx="378.5" cy="1053.1" r="5.5"/><circle cx="256.3" cy="1113.7" r="6.5"/><circle cx="275.5" cy="1112.8" r="6.9"/><circle cx="276.9" cy="1111.3" r="6.2"/><circle cx="251.9" cy="1123.1" r="5.5"/><circle cx="244.6" cy="1133.4" r="5.9"/><circle cx="247.5" cy="1130.5" r="5.5"/><circle cx="259.3" cy="1141.7" r="6.2"/><circle cx="271" cy="1129" r="5.9"/><circle cx="272.5" cy="1134.9" r="5.9"/><circle cx="285.8" cy="1131.4" r="5.5"/><circle cx="272.5" cy="1126.1" r="5.5"/><circle cx="293.1" cy="1118.7" r="5.5"/><circle cx="304.9" cy="1109.9" r="5.5"/><circle cx="306.9" cy="1117.8" r="5.5"/><circle cx="301.9" cy="1125.2" r="5.5"/><circle cx="310.8" cy="1102.5" r="6.2"/><circle cx="185.1" cy="1145.8" r="7.4"/><circle cx="197.5" cy="1149.6" r="7.4"/><circle cx="244.6" cy="1175.2" r="7.4"/><circle cx="409.4" cy="1033.4" r="5"/><circle cx="429.4" cy="1036.9" r="5"/><circle cx="417.6" cy="1008.3" r="5"/><circle cx="442.6" cy="1005.4" r="4.4"/><circle cx="437.3" cy="1023.1" r="4.4"/><circle cx="424.1" cy="1026" r="4.4"/><circle cx="494.7" cy="971.6" r="4.7"/><circle cx="502.9" cy="981.3" r="4.7"/><circle cx="506.5" cy="978.9" r="4.4"/><circle cx="510.9" cy="977.4" r="4.4"/><circle cx="519.7" cy="968.6" r="4.1"/><circle cx="525" cy="981.9" r="3.6"/><circle cx="522.1" cy="975.4" r="3.6"/><circle cx="533" cy="974.5" r="3.6"/><circle cx="545.6" cy="970.1" r="4.1"/><circle cx="541.2" cy="985.7" r="3.3"/><circle cx="552.1" cy="989.2" r="3.3"/><circle cx="555.9" cy="992.2" r="2.7"/><circle cx="547.7" cy="998" r="2.7"/><circle cx="547.7" cy="1003.3" r="2.7"/><circle cx="542.4" cy="1007.5" r="2.4"/><circle cx="509.4" cy="1008.3" r="2.7"/><circle cx="509.4" cy="996" r="3.3"/><circle cx="503.5" cy="976" r="3.6"/><circle cx="513.8" cy="980.4" r="3.6"/><circle cx="507.1" cy="973" r="3.3"/></g>
<path fill="#f23838" d="M414.3 994.2l7.3 12.2h-14.6zM435.6 1011.9l7.3 12.2h-14.6zM428.8 1010.1l7.3 12.2h-14.6zM340.9 969.8l7.3 12.2h-14.6zM453.9 986l7.3 12.2h-14.6zM395.3 950.5l7.3 12.2h-14.6zM404.5 979.4l7.3 12.2h-14.6zM431.9 942.8l7.3 12.2h-14.6zM435.8 941l7.3 12.2h-14.6zM413.6 939.9l7.3 12.2h-14.6zM403.9 988.6l7.3 12.2h-14.6zM422.7 1014l7.3 12.2h-14.6zM381.9 943.4l7.3 12.2h-14.6zM374.5 982l7.3 12.2h-14.6zM379.1 956.1l7.3 12.2h-14.6zM438.5 971.1l7.3 12.2h-14.6zM376.3 971.2l7.3 12.2h-14.6zM430 1003.3l7.3 12.2h-14.6zM382.6 979.8l7.3 12.2h-14.6zM361.6 995.4l7.3 12.2h-14.6zM379.9 960l7.3 12.2h-14.6zM402.2 997.2l7.3 12.2h-14.6zM350.7 994.8l7.3 12.2h-14.6zM435.8 1004.6l7.3 12.2h-14.6zM404.7 956.3l7.3 12.2h-14.6zM376.5 944.4l7.3 12.2h-14.6zM387.5 949.7l7.3 12.2h-14.6zM410.7 1001.7l7.3 12.2h-14.6zM393.6 965.9l7.3 12.2h-14.6zM341.3 972.3l7.3 12.2h-14.6zM440.9 940.2l7.3 12.2h-14.6zM427.7 1012.6l7.3 12.2h-14.6zM415.2 998.3l7.3 12.2h-14.6zM350.5 967.1l7.3 12.2h-14.6zM373.7 968.7l7.3 12.2h-14.6zM397.6 993.1l7.3 12.2h-14.6zM396.5 954.4l7.3 12.2h-14.6zM387.2 941.6l7.3 12.2h-14.6zM455.9 984.1l7.3 12.2h-14.6zM399 958.6l7.3 12.2h-14.6zM434 1005.3l7.3 12.2h-14.6zM382 998.1l7.3 12.2h-14.6zM433.1 990l7.3 12.2h-14.6zM419.4 995.8l7.3 12.2h-14.6zM382.2 990.9l7.3 12.2h-14.6zM372 971.6l7.3 12.2h-14.6zM432.4 989.7l7.3 12.2h-14.6zM417.6 980l7.3 12.2h-14.6zM338.7 977l7.3 12.2h-14.6zM368.3 988l7.3 12.2h-14.6zM417.3 999.1l7.3 12.2h-14.6zM380.3 985.6l7.3 12.2h-14.6zM428.5 1001.8l7.3 12.2h-14.6zM444.8 989.5l7.3 12.2h-14.6zM401.3 975.4l7.3 12.2h-14.6zM453.2 970.8l7.3 12.2h-14.6zM422.8 992.2l7.3 12.2h-14.6zM427.6 943.9l7.3 12.2h-14.6zM433.8 980l7.3 12.2h-14.6zM419.6 965.9l7.3 12.2h-14.6zM414.4 997.1l7.3 12.2h-14.6zM416 992.3l7.3 12.2h-14.6zM391.8 986.1l7.3 12.2h-14.6zM364.4 989.3l7.3 12.2h-14.6zM415.3 932.4l7.3 12.2h-14.6zM395.6 948.7l7.3 12.2h-14.6zM376.5 944.7l7.3 12.2h-14.6zM394.8 962.3l7.3 12.2h-14.6zM412.9 980.8l7.3 12.2h-14.6zM371.7 964.9l7.3 12.2h-14.6zM413.1 937.1l7.3 12.2h-14.6zM404.7 958.7l7.3 12.2h-14.6zM438.5 965.7l7.3 12.2h-14.6zM437.8 985.4l7.3 12.2h-14.6zM383 941.2l7.3 12.2h-14.6zM411 978.5l7.3 12.2h-14.6zM412.5 959.7l7.3 12.2h-14.6zM350.6 978.7l7.3 12.2h-14.6zM413.3 941.1l7.3 12.2h-14.6zM415.1 1007.4l7.3 12.2h-14.6zM383.8 966.8l7.3 12.2h-14.6zM410.9 951.6l7.3 12.2h-14.6zM388.7 956.9l7.3 12.2h-14.6zM372.7 970.8l7.3 12.2h-14.6zM352.4 983.6l7.3 12.2h-14.6zM392.1 954.6l7.3 12.2h-14.6zM433.9 1001.7l7.3 12.2h-14.6zM338.9 975.7l7.3 12.2h-14.6zM433.9 950.4l7.3 12.2h-14.6zM412.5 970.6l7.3 12.2h-14.6zM417 982l7.3 12.2h-14.6zM429.2 939.1l7.3 12.2h-14.6zM431.3 955.3l7.3 12.2h-14.6zM403.2 958.4l7.3 12.2h-14.6zM374 975.5l7.3 12.2h-14.6zM394.7 960.6l7.3 12.2h-14.6zM429.4 980.9l7.3 12.2h-14.6zM447 976.9l7.3 12.2h-14.6zM390.2 979.5l7.3 12.2h-14.6zM424.8 984.5l7.3 12.2h-14.6zM384.9 963.3l7.3 12.2h-14.6zM442.6 946l7.3 12.2h-14.6zM423.2 966.9l7.3 12.2h-14.6zM372.7 997.6l7.3 12.2h-14.6zM396.4 977.2l7.3 12.2h-14.6zM398.8 957.9l7.3 12.2h-14.6zM356.3 980.4l7.3 12.2h-14.6zM435.2 987.3l7.3 12.2h-14.6zM340.5 992.5l7.3 12.2h-14.6zM441.4 948.1l7.3 12.2h-14.6zM425.4 940.6l7.3 12.2h-14.6zM355.8 982.6l7.3 12.2h-14.6zM388.5 942.9l7.3 12.2h-14.6zM414.2 932.5l7.3 12.2h-14.6zM408.4 994.2l7.3 12.2h-14.6zM445.9 940.6l7.3 12.2h-14.6zM390.7 956.5l7.3 12.2h-14.6zM411.5 971.9l7.3 12.2h-14.6zM344.2 990.3l7.3 12.2h-14.6zM356 984.4l7.3 12.2h-14.6zM405.9 983.5l7.3 12.2h-14.6zM369.8 977.4l7.3 12.2h-14.6zM368.7 995l7.3 12.2h-14.6zM401.2 940.5l7.3 12.2h-14.6zM428.4 944.5l7.3 12.2h-14.6zM425.5 986.5l7.3 12.2h-14.6zM347.8 987.7l7.3 12.2h-14.6zM410.7 949.8l7.3 12.2h-14.6zM445.7 971.1l7.3 12.2h-14.6zM377.3 999l7.3 12.2h-14.6zM340.9 992.7l7.3 12.2h-14.6zM455 988.8l7.3 12.2h-14.6zM457.5 987.4l7.3 12.2h-14.6zM438.7 941l7.3 12.2h-14.6zM414.5 960l7.3 12.2h-14.6zM413.2 959.5l7.3 12.2h-14.6zM385 940.7l7.3 12.2h-14.6zM440 985.9l7.3 12.2h-14.6zM436.7 967l7.3 12.2h-14.6zM442.6 974.4l7.3 12.2h-14.6zM410.5 979.3l7.3 12.2h-14.6zM428.8 963.6l7.3 12.2h-14.6zM447.2 971.2l7.3 12.2h-14.6zM413.9 966.5l7.3 12.2h-14.6zM394.8 937.5l7.3 12.2h-14.6zM383.6 962.8l7.3 12.2h-14.6zM446.1 942.1l7.3 12.2h-14.6zM366.4 971.3l7.3 12.2h-14.6zM422.3 988.2l7.3 12.2h-14.6zM351.9 987.7l7.3 12.2h-14.6zM373.3 988.3l7.3 12.2h-14.6zM427.4 943.1l7.3 12.2h-14.6zM382.3 956.2l7.3 12.2h-14.6zM395.1 953.7l7.3 12.2h-14.6zM427.8 992.1l7.3 12.2h-14.6zM420.4 1011.7l7.3 12.2h-14.6zM417.1 966.7l7.3 12.2h-14.6zM388 932.7l7.3 12.2h-14.6zM401.4 959.6l7.3 12.2h-14.6zM448.4 972.1l7.3 12.2h-14.6zM386.4 934l7.3 12.2h-14.6zM368.9 964.7l7.3 12.2h-14.6zM359.5 973.6l7.3 12.2h-14.6zM387 975.6l7.3 12.2h-14.6zM350.6 976.6l7.3 12.2h-14.6zM451.2 981.5l7.3 12.2h-14.6zM443.2 947.6l7.3 12.2h-14.6zM339.5 976.3l7.3 12.2h-14.6zM397.4 979.2l7.3 12.2h-14.6zM383.9 983.9l7.3 12.2h-14.6zM420.3 840.4l7.3 12.2h-14.6zM373.2 886l7.3 12.2h-14.6zM430.8 883.1l7.3 12.2h-14.6zM375.5 906.6l7.3 12.2h-14.6zM435.8 898.7l7.3 12.2h-14.6zM443.2 899.2l7.3 12.2h-14.6zM442.6 911l7.3 12.2h-14.6zM437.9 919.3l7.3 12.2h-14.6zM416.1 915.4l7.3 12.2h-14.6zM419.7 923.4l7.3 12.2h-14.6zM397.6 926.6l7.3 12.2h-14.6zM460.3 947.2l7.3 12.2h-14.6zM474.1 943.4l7.3 12.2h-14.6zM481.5 947.2l7.3 12.2h-14.6zM474.1 957.5l7.3 12.2h-14.6zM460.9 972.2l7.3 12.2h-14.6zM506.5 957.5l7.3 12.2h-14.6zM496.8 989.9l7.3 12.2h-14.6zM506.5 998.7l7.3 12.2h-14.6zM501.5 1011.7l7.3 12.2h-14.6zM530 1010.5l7.3 12.2h-14.6zM491.8 1025.2l7.3 12.2h-14.6zM488.8 1031.7l7.3 12.2h-14.6zM312.2 978.7l7.3 12.2h-14.6zM327.5 982.5l7.3 12.2h-14.6zM322.5 1003.7l7.3 12.2h-14.6zM332.8 1001.7l7.3 12.2h-14.6zM341.7 1011.7l7.3 12.2h-14.6zM349 1015.5l7.3 12.2h-14.6zM369.6 1006.7l7.3 12.2h-14.6zM344.6 1090.5l7.3 12.2h-14.6zM374.9 1068.5l7.3 12.2h-14.6zM397 1080.2l7.3 12.2h-14.6zM422.6 1086.1l7.3 12.2h-14.6zM469.7 1077.3l7.3 12.2h-14.6zM378.5 1033.1l7.3 12.2h-14.6zM385.8 1025.8l7.3 12.2h-14.6zM402 1037.6l7.3 12.2h-14.6zM404.9 1044.9l7.3 12.2h-14.6zM416.7 1049.3l7.3 12.2h-14.6zM416.7 1055.2l7.3 12.2h-14.6zM427.6 1059.6l7.3 12.2h-14.6zM446.1 1061.1l7.3 12.2h-14.6zM453.5 1062.6l7.3 12.2h-14.6zM449.1 1052.3l7.3 12.2h-14.6zM450.6 1058.2l7.3 12.2h-14.6zM463.8 1033.1l7.3 12.2h-14.6zM459.4 1040.5l7.3 12.2h-14.6zM466.7 1040.5l7.3 12.2h-14.6zM455.6 1017l7.3 12.2h-14.6zM451.4 1014l7.3 12.2h-14.6zM452 1008.1l7.3 12.2h-14.6zM424.1 1037.6l7.3 12.2h-14.6zM419.1 1019.9l7.3 12.2h-14.6zM399.1 1014l7.3 12.2h-14.6zM396.1 1005.2l7.3 12.2h-14.6zM381.4 1049.3l7.3 12.2h-14.6zM387.3 940.4l7.3 12.2h-14.6zM382.9 934.6l7.3 12.2h-14.6zM410.8 943.4l7.3 12.2h-14.6zM443.2 940.4l7.3 12.2h-14.6zM444.7 952.2l7.3 12.2h-14.6zM450.6 961l7.3 12.2h-14.6zM438.8 949.3l7.3 12.2h-14.6zM375.5 946.3l7.3 12.2h-14.6zM456.4 1002.2l7.3 12.2h-14.6zM460.9 993.4l7.3 12.2h-14.6zM435.8 1006.7l7.3 12.2h-14.6zM425.5 1008.1l7.3 12.2h-14.6zM404.9 1019.9l7.3 12.2h-14.6zM393.2 1019.9l7.3 12.2h-14.6zM352 1005.2l7.3 12.2h-14.6zM357.9 990.5l7.3 12.2h-14.6zM337.3 972.8l7.3 12.2h-14.6zM343.1 964l7.3 12.2h-14.6z"/>
<path d="M162.2 1168.7L617.4 935.7" fill="none" stroke="#f0469a" stroke-width="2.8" />
<path d="M800.7 852.7L836.5 972.2L872.2 930.6L908 953.2L943.7 985L979.5 981.4L1015.2 1011.1L1051 983.5L1086.7 1011.1L1122.4 981.4L1158.2 985L1193.9 953.2L1229.7 930.6L1265.4 972.2L1301.2 852.7" fill="none" stroke="#0000ff" stroke-width="2.5" />
<g fill="none" stroke="#0000ff" stroke-width="2.1"><circle cx="800.7" cy="852.7" r="7.2"/><circle cx="836.5" cy="972.2" r="7.2"/><circle cx="872.2" cy="930.6" r="7.2"/><circle cx="908" cy="953.2" r="7.2"/><circle cx="943.7" cy="985" r="7.2"/><circle cx="979.5" cy="981.4" r="7.2"/><circle cx="1015.2" cy="1011.1" r="7.2"/><circle cx="1051" cy="983.5" r="7.2"/><circle cx="1086.7" cy="1011.1" r="7.2"/><circle cx="1122.4" cy="981.4" r="7.2"/><circle cx="1158.2" cy="985" r="7.2"/><circle cx="1193.9" cy="953.2" r="7.2"/><circle cx="1229.7" cy="930.6" r="7.2"/><circle cx="1265.4" cy="972.2" r="7.2"/><circle cx="1301.2" cy="852.7" r="7.2"/></g>
<path d="M787.9 952.3L810.8 1029.6L833.6 1033.4L856.5 1057.2L879.4 1063.8L902.3 1023L925.1 1057.8L948 1048.3L970.9 1063.8L993.8 1081L1016.6 1071.2L1039.5 1076.2L1062.4 1076.2L1085.3 1071.2L1108.1 1081L1131 1063.8L1153.9 1048.3L1176.8 1057.8L1199.6 1023L1222.5 1063.8L1245.4 1057.2L1268.3 1033.4L1291.1 1029.6L1314 952.3" fill="none" stroke="#f23838" stroke-width="2.5" />
<path fill="none" stroke="#f23838" stroke-width="1.9"  d="M787.9 945.5v13.5M783.1 947.5l9.5 9.5M783.1 957.1l9.5 -9.5M781.1 952.3h13.5M810.8 1022.8v13.5M806 1024.8l9.5 9.5M806 1034.3l9.5 -9.5M804 1029.6h13.5M833.6 1026.7v13.5M828.9 1028.7l9.5 9.5M828.9 1038.2l9.5 -9.5M826.9 1033.4h13.5M856.5 1050.5v13.5M851.7 1052.4l9.5 9.5M851.7 1062l9.5 -9.5M849.8 1057.2h13.5M879.4 1057v13.5M874.6 1059l9.5 9.5M874.6 1068.5l9.5 -9.5M872.6 1063.8h13.5M902.3 1016.3v13.5M897.5 1018.3l9.5 9.5M897.5 1027.8l9.5 -9.5M895.5 1023h13.5M925.1 1051.1v13.5M920.4 1053l9.5 9.5M920.4 1062.6l9.5 -9.5M918.4 1057.8h13.5M948 1041.5v13.5M943.2 1043.5l9.5 9.5M943.2 1053.1l9.5 -9.5M941.3 1048.3h13.5M970.9 1057v13.5M966.1 1059l9.5 9.5M966.1 1068.5l9.5 -9.5M964.1 1063.8h13.5M993.8 1074.2v13.5M989 1076.2l9.5 9.5M989 1085.8l9.5 -9.5M987 1081h13.5M1016.6 1064.4v13.5M1011.9 1066.4l9.5 9.5M1011.9 1076l9.5 -9.5M1009.9 1071.2h13.5M1039.5 1069.5v13.5M1034.7 1071.5l9.5 9.5M1034.7 1081l9.5 -9.5M1032.8 1076.2h13.5M1062.4 1069.5v13.5M1057.6 1071.5l9.5 9.5M1057.6 1081l9.5 -9.5M1055.6 1076.2h13.5M1085.3 1064.4v13.5M1080.5 1066.4l9.5 9.5M1080.5 1076l9.5 -9.5M1078.5 1071.2h13.5M1108.1 1074.2v13.5M1103.4 1076.2l9.5 9.5M1103.4 1085.8l9.5 -9.5M1101.4 1081h13.5M1131 1057v13.5M1126.2 1059l9.5 9.5M1126.2 1068.5l9.5 -9.5M1124.3 1063.8h13.5M1153.9 1041.5v13.5M1149.1 1043.5l9.5 9.5M1149.1 1053.1l9.5 -9.5M1147.1 1048.3h13.5M1176.8 1051.1v13.5M1172 1053l9.5 9.5M1172 1062.6l9.5 -9.5M1170 1057.8h13.5M1199.6 1016.3v13.5M1194.9 1018.3l9.5 9.5M1194.9 1027.8l9.5 -9.5M1192.9 1023h13.5M1222.5 1057v13.5M1217.7 1059l9.5 9.5M1217.7 1068.5l9.5 -9.5M1215.8 1063.8h13.5M1245.4 1050.5v13.5M1240.6 1052.4l9.5 9.5M1240.6 1062l9.5 -9.5M1238.6 1057.2h13.5M1268.3 1026.7v13.5M1263.5 1028.7l9.5 9.5M1263.5 1038.2l9.5 -9.5M1261.5 1033.4h13.5M1291.1 1022.8v13.5M1286.4 1024.8l9.5 9.5M1286.4 1034.3l9.5 -9.5M1284.4 1029.6h13.5M1314 945.5v13.5M1309.3 947.5l9.5 9.5M1309.3 957.1l9.5 -9.5M1307.3 952.3h13.5"/>
<path d="M781.3 1017.1L797.7 1102.4L814 1108.3L830.4 1114.3L846.7 1114.3L863 1123.2L879.4 1111.3L895.7 1124.7L912.1 1115.8L928.4 1124.7L944.7 1112.8L961.1 1100.9L977.4 1092L993.8 1081.6L1010.1 1057.8L1026.4 1032.5L1042.8 1017.7L1059.1 1017.7L1075.5 1032.5L1091.8 1057.8L1108.1 1081.6L1124.5 1092L1140.8 1100.9L1157.2 1112.8L1173.5 1124.7L1189.8 1115.8L1206.2 1124.7L1222.5 1111.3L1238.9 1123.2L1255.2 1114.3L1271.5 1114.3L1287.9 1108.3L1304.2 1102.4L1320.6 1017.1" fill="none" stroke="#000000" stroke-width="2.5" />
<path fill="none" stroke="#000000" stroke-width="2.2"  d="M781.3 1008.1l6.2 9l-6.2 9l-6.2 -9zM797.7 1093.4l6.2 9l-6.2 9l-6.2 -9zM814 1099.3l6.2 9l-6.2 9l-6.2 -9zM830.4 1105.3l6.2 9l-6.2 9l-6.2 -9zM846.7 1105.3l6.2 9l-6.2 9l-6.2 -9zM863 1114.2l6.2 9l-6.2 9l-6.2 -9zM879.4 1102.3l6.2 9l-6.2 9l-6.2 -9zM895.7 1115.7l6.2 9l-6.2 9l-6.2 -9zM912.1 1106.8l6.2 9l-6.2 9l-6.2 -9zM928.4 1115.7l6.2 9l-6.2 9l-6.2 -9zM944.7 1103.8l6.2 9l-6.2 9l-6.2 -9zM961.1 1091.9l6.2 9l-6.2 9l-6.2 -9zM977.4 1083l6.2 9l-6.2 9l-6.2 -9zM993.8 1072.6l6.2 9l-6.2 9l-6.2 -9zM1010.1 1048.8l6.2 9l-6.2 9l-6.2 -9zM1026.4 1023.5l6.2 9l-6.2 9l-6.2 -9zM1042.8 1008.7l6.2 9l-6.2 9l-6.2 -9zM1059.1 1008.7l6.2 9l-6.2 9l-6.2 -9zM1075.5 1023.5l6.2 9l-6.2 9l-6.2 -9zM1091.8 1048.8l6.2 9l-6.2 9l-6.2 -9zM1108.1 1072.6l6.2 9l-6.2 9l-6.2 -9zM1124.5 1083l6.2 9l-6.2 9l-6.2 -9zM1140.8 1091.9l6.2 9l-6.2 9l-6.2 -9zM1157.2 1103.8l6.2 9l-6.2 9l-6.2 -9zM1173.5 1115.7l6.2 9l-6.2 9l-6.2 -9zM1189.8 1106.8l6.2 9l-6.2 9l-6.2 -9zM1206.2 1115.7l6.2 9l-6.2 9l-6.2 -9zM1222.5 1102.3l6.2 9l-6.2 9l-6.2 -9zM1238.9 1114.2l6.2 9l-6.2 9l-6.2 -9zM1255.2 1105.3l6.2 9l-6.2 9l-6.2 -9zM1271.5 1105.3l6.2 9l-6.2 9l-6.2 -9zM1287.9 1099.3l6.2 9l-6.2 9l-6.2 -9zM1304.2 1093.4l6.2 9l-6.2 9l-6.2 -9zM1320.6 1008.1l6.2 9l-6.2 9l-6.2 -9z"/>
<path fill="none" stroke="#4cb8e8" stroke-width="2.4"  d="M772.5 1126.2h13.5M779.3 1119.4v13.5M786.8 1157.4h13.5M793.6 1150.6v13.5M801.1 1143.4h13.5M807.9 1136.7v13.5M815.4 1126.2h13.5M822.2 1119.4v13.5M829.7 1170.2h13.5M836.5 1163.4v13.5M844 1160.4h13.5M850.8 1153.6v13.5M858.3 1143.4h13.5M865.1 1136.7v13.5M872.6 1096.5h13.5M879.4 1089.7v13.5M886.9 1152.9h13.5M893.7 1146.2v13.5M901.2 1109.8h13.5M908 1103.1v13.5M915.5 1117.3h13.5M922.3 1110.5v13.5M929.8 1099.4h13.5M936.6 1092.7v13.5M944.1 1081.6h13.5M950.9 1074.8v13.5M958.4 1092h13.5M965.2 1085.2v13.5M972.7 1086.1h13.5M979.5 1079.3v13.5M987 1048.9h13.5M993.8 1042.1v13.5M1001.3 1057.8h13.5M1008.1 1051.1v13.5M1015.6 1013.8h13.5M1022.4 1007.1v13.5M1029.9 1034h13.5M1036.7 1027.3v13.5M1044.2 1005.8h13.5M1051 999v13.5M1058.5 1034h13.5M1065.2 1027.3v13.5M1072.8 1013.8h13.5M1079.5 1007.1v13.5M1087.1 1057.8h13.5M1093.8 1051.1v13.5M1101.4 1048.9h13.5M1108.1 1042.1v13.5M1115.7 1086.1h13.5M1122.4 1079.3v13.5M1130 1092h13.5M1136.7 1085.2v13.5M1144.3 1081.6h13.5M1151 1074.8v13.5M1158.6 1099.4h13.5M1165.3 1092.7v13.5M1172.9 1117.3h13.5M1179.6 1110.5v13.5M1187.2 1109.8h13.5M1193.9 1103.1v13.5M1201.5 1152.9h13.5M1208.2 1146.2v13.5M1215.8 1096.5h13.5M1222.5 1089.7v13.5M1230.1 1143.4h13.5M1236.8 1136.7v13.5M1244.4 1160.4h13.5M1251.1 1153.6v13.5M1258.7 1170.2h13.5M1265.4 1163.4v13.5M1273 1126.2h13.5M1279.7 1119.4v13.5M1287.3 1143.4h13.5M1294 1136.7v13.5M1301.6 1157.4h13.5M1308.3 1150.6v13.5M1315.9 1126.2h13.5M1322.6 1119.4v13.5"/>
<path fill="none" stroke="#f0469a" stroke-width="2.1"  d="M776.4 1157.8l8.2 14h-16.5zM787.9 1186.3l8.2 14h-16.5zM799.3 1157.8l8.2 14h-16.5zM810.8 1167.7l8.2 14h-16.5zM822.2 1176.4l8.2 14h-16.5zM833.6 1138.1l8.2 14h-16.5zM845.1 1177l8.2 14h-16.5zM856.5 1157.8l8.2 14h-16.5zM867.9 1157.8l8.2 14h-16.5zM879.4 1157.8l8.2 14h-16.5zM890.8 1176.4l8.2 14h-16.5zM902.3 1138.6l8.2 14h-16.5zM913.7 1109.1l8.2 14h-16.5zM925.1 1119.5l8.2 14h-16.5zM936.6 1110.5l8.2 14h-16.5zM948 1148.5l8.2 14h-16.5zM959.4 1110.5l8.2 14h-16.5zM970.9 1063l8.2 14h-16.5zM982.3 1081l8.2 14h-16.5zM993.8 1032.5l8.2 14h-16.5zM1005.2 994l8.2 14h-16.5zM1016.6 1014l8.2 14h-16.5zM1028.1 1043.6l8.2 14h-16.5zM1039.5 984.5l8.2 14h-16.5zM1051 1051.5l8.2 14h-16.5zM1062.4 984.5l8.2 14h-16.5zM1073.8 1043.6l8.2 14h-16.5zM1085.3 1014l8.2 14h-16.5zM1096.7 994l8.2 14h-16.5zM1108.1 1032.5l8.2 14h-16.5zM1119.6 1081l8.2 14h-16.5zM1131 1063l8.2 14h-16.5zM1142.5 1110.5l8.2 14h-16.5zM1153.9 1148.5l8.2 14h-16.5zM1165.3 1110.5l8.2 14h-16.5zM1176.8 1119.5l8.2 14h-16.5zM1188.2 1109.1l8.2 14h-16.5zM1199.6 1138.6l8.2 14h-16.5zM1211.1 1176.4l8.2 14h-16.5zM1222.5 1157.8l8.2 14h-16.5zM1234 1157.8l8.2 14h-16.5zM1245.4 1157.8l8.2 14h-16.5zM1256.8 1177l8.2 14h-16.5zM1268.3 1138.1l8.2 14h-16.5zM1279.7 1176.4l8.2 14h-16.5zM1291.1 1167.7l8.2 14h-16.5zM1302.6 1157.8l8.2 14h-16.5zM1314 1186.3l8.2 14h-16.5zM1325.5 1157.8l8.2 14h-16.5z"/>
<path d="M765 1181.6L767.9 1180.9L770.7 1180.1L773.6 1179.4L776.4 1178.6L779.3 1177.8L782.2 1176.9L785 1176.1L787.9 1175.2L790.7 1174.2L793.6 1173.3L796.5 1172.3L799.3 1171.3L802.2 1170.2L805 1169.1L807.9 1168L810.8 1166.9L813.6 1165.7L816.5 1164.5L819.3 1163.2L822.2 1161.9L825 1160.6L827.9 1159.3L830.8 1157.9L833.6 1156.5L836.5 1155.1L839.3 1153.6L842.2 1152.1L845.1 1150.5L847.9 1149L850.8 1147.4L853.6 1145.7L856.5 1144.1L859.4 1142.4L862.2 1140.7L865.1 1138.9L867.9 1137.2L870.8 1135.4L873.7 1133.5L876.5 1131.7L879.4 1129.8L882.2 1127.9L885.1 1126L888 1124.1L890.8 1122.1L893.7 1120.2L896.5 1118.2L899.4 1116.2L902.3 1114.2L905.1 1112.1L908 1110.1L910.8 1108.1L913.7 1106L916.6 1104L919.4 1101.9L922.3 1099.9L925.1 1097.8L928 1095.8L930.9 1093.8L933.7 1091.7L936.6 1089.7L939.4 1087.7L942.3 1085.7L945.1 1083.7L948 1081.8L950.9 1079.8L953.7 1077.9L956.6 1076L959.4 1074.2L962.3 1072.4L965.2 1070.6L968 1068.8L970.9 1067.1L973.7 1065.4L976.6 1063.7L979.5 1062.1L982.3 1060.6L985.2 1059L988 1057.6L990.9 1056.2L993.8 1054.8L996.6 1053.5L999.5 1052.2L1002.3 1051L1005.2 1049.9L1008.1 1048.8L1010.9 1047.8L1013.8 1046.9L1016.6 1046L1019.5 1045.2L1022.4 1044.4L1025.2 1043.7L1028.1 1043.1L1030.9 1042.6L1033.8 1042.1L1036.7 1041.7L1039.5 1041.4L1042.4 1041.1L1045.2 1040.9L1048.1 1040.8L1051 1040.8L1053.8 1040.8L1056.7 1040.9L1059.5 1041.1L1062.4 1041.4L1065.2 1041.7L1068.1 1042.1L1071 1042.6L1073.8 1043.1L1076.7 1043.7L1079.5 1044.4L1082.4 1045.2L1085.3 1046L1088.1 1046.9L1091 1047.8L1093.8 1048.8L1096.7 1049.9L1099.6 1051L1102.4 1052.2L1105.3 1053.5L1108.1 1054.8L1111 1056.2L1113.9 1057.6L1116.7 1059L1119.6 1060.6L1122.4 1062.1L1125.3 1063.7L1128.2 1065.4L1131 1067.1L1133.9 1068.8L1136.7 1070.6L1139.6 1072.4L1142.5 1074.2L1145.3 1076L1148.2 1077.9L1151 1079.8L1153.9 1081.8L1156.8 1083.7L1159.6 1085.7L1162.5 1087.7L1165.3 1089.7L1168.2 1091.7L1171 1093.8L1173.9 1095.8L1176.8 1097.8L1179.6 1099.9L1182.5 1101.9L1185.3 1104L1188.2 1106L1191.1 1108.1L1193.9 1110.1L1196.8 1112.1L1199.6 1114.2L1202.5 1116.2L1205.4 1118.2L1208.2 1120.2L1211.1 1122.1L1213.9 1124.1L1216.8 1126L1219.7 1127.9L1222.5 1129.8L1225.4 1131.7L1228.2 1133.5L1231.1 1135.4L1234 1137.2L1236.8 1138.9L1239.7 1140.7L1242.5 1142.4L1245.4 1144.1L1248.3 1145.7L1251.1 1147.4L1254 1149L1256.8 1150.5L1259.7 1152.1L1262.6 1153.6L1265.4 1155.1L1268.3 1156.5L1271.1 1157.9L1274 1159.3L1276.9 1160.6L1279.7 1161.9L1282.6 1163.2L1285.4 1164.5L1288.3 1165.7L1291.1 1166.9L1294 1168L1296.9 1169.1L1299.7 1170.2L1302.6 1171.3L1305.4 1172.3L1308.3 1173.3L1311.2 1174.2L1314 1175.2L1316.9 1176.1L1319.7 1176.9L1322.6 1177.8L1325.5 1178.6L1328.3 1179.4L1331.2 1180.1L1334 1180.9L1336.9 1181.6" fill="none" stroke="#4cb8e8" stroke-width="2.6" />
<path d="M765 1192.8L767.9 1192.6L770.7 1192.3L773.6 1192L776.4 1191.7L779.3 1191.3L782.2 1190.9L785 1190.6L787.9 1190.1L790.7 1189.7L793.6 1189.2L796.5 1188.7L799.3 1188.2L802.2 1187.6L805 1187L807.9 1186.4L810.8 1185.8L813.6 1185.1L816.5 1184.3L819.3 1183.6L822.2 1182.8L825 1181.9L827.9 1181L830.8 1180.1L833.6 1179.1L836.5 1178.1L839.3 1177L842.2 1175.9L845.1 1174.7L847.9 1173.5L850.8 1172.2L853.6 1170.9L856.5 1169.5L859.4 1168.1L862.2 1166.6L865.1 1165.1L867.9 1163.5L870.8 1161.8L873.7 1160.1L876.5 1158.4L879.4 1156.6L882.2 1154.7L885.1 1152.8L888 1150.8L890.8 1148.8L893.7 1146.7L896.5 1144.6L899.4 1142.4L902.3 1140.2L905.1 1138L908 1135.6L910.8 1133.3L913.7 1130.9L916.6 1128.4L919.4 1126L922.3 1123.5L925.1 1120.9L928 1118.4L930.9 1115.8L933.7 1113.1L936.6 1110.5L939.4 1107.9L942.3 1105.2L945.1 1102.5L948 1099.8L950.9 1097.2L953.7 1094.5L956.6 1091.8L959.4 1089.2L962.3 1086.5L965.2 1083.9L968 1081.4L970.9 1078.8L973.7 1076.3L976.6 1073.8L979.5 1071.4L982.3 1069L985.2 1066.7L988 1064.4L990.9 1062.2L993.8 1060.1L996.6 1058L999.5 1056L1002.3 1054.1L1005.2 1052.3L1008.1 1050.5L1010.9 1048.9L1013.8 1047.4L1016.6 1045.9L1019.5 1044.6L1022.4 1043.3L1025.2 1042.2L1028.1 1041.2L1030.9 1040.3L1033.8 1039.5L1036.7 1038.9L1039.5 1038.3L1042.4 1037.9L1045.2 1037.6L1048.1 1037.4L1051 1037.3L1053.8 1037.4L1056.7 1037.6L1059.5 1037.9L1062.4 1038.3L1065.2 1038.9L1068.1 1039.5L1071 1040.3L1073.8 1041.2L1076.7 1042.2L1079.5 1043.3L1082.4 1044.6L1085.3 1045.9L1088.1 1047.4L1091 1048.9L1093.8 1050.5L1096.7 1052.3L1099.6 1054.1L1102.4 1056L1105.3 1058L1108.1 1060.1L1111 1062.2L1113.9 1064.4L1116.7 1066.7L1119.6 1069L1122.4 1071.4L1125.3 1073.8L1128.2 1076.3L1131 1078.8L1133.9 1081.4L1136.7 1083.9L1139.6 1086.5L1142.5 1089.2L1145.3 1091.8L1148.2 1094.5L1151 1097.2L1153.9 1099.8L1156.8 1102.5L1159.6 1105.2L1162.5 1107.9L1165.3 1110.5L1168.2 1113.1L1171 1115.8L1173.9 1118.4L1176.8 1120.9L1179.6 1123.5L1182.5 1126L1185.3 1128.4L1188.2 1130.9L1191.1 1133.3L1193.9 1135.6L1196.8 1138L1199.6 1140.2L1202.5 1142.4L1205.4 1144.6L1208.2 1146.7L1211.1 1148.8L1213.9 1150.8L1216.8 1152.8L1219.7 1154.7L1222.5 1156.6L1225.4 1158.4L1228.2 1160.1L1231.1 1161.8L1234 1163.5L1236.8 1165.1L1239.7 1166.6L1242.5 1168.1L1245.4 1169.5L1248.3 1170.9L1251.1 1172.2L1254 1173.5L1256.8 1174.7L1259.7 1175.9L1262.6 1177L1265.4 1178.1L1268.3 1179.1L1271.1 1180.1L1274 1181L1276.9 1181.9L1279.7 1182.8L1282.6 1183.6L1285.4 1184.3L1288.3 1185.1L1291.1 1185.8L1294 1186.4L1296.9 1187L1299.7 1187.6L1302.6 1188.2L1305.4 1188.7L1308.3 1189.2L1311.2 1189.7L1314 1190.1L1316.9 1190.6L1319.7 1190.9L1322.6 1191.3L1325.5 1191.7L1328.3 1192L1331.2 1192.3L1334 1192.6L1336.9 1192.8" fill="none" stroke="#f0469a" stroke-width="2.6" stroke-dasharray="23 14"/>
<path d="M1453.7 846.8L1489.2 919.6L1524.8 916L1560.4 909.2L1595.9 970.1L1631.5 859.5L1667.1 859.5L1702.7 896.4L1738.2 859.5L1773.8 859.5L1809.4 970.1L1844.9 909.2L1880.5 916L1916.1 919.6L1951.6 846.8" fill="none" stroke="#0000ff" stroke-width="2.5" />
<g fill="none" stroke="#0000ff" stroke-width="2.1"><circle cx="1453.7" cy="846.8" r="7.1"/><circle cx="1489.2" cy="919.6" r="7.1"/><circle cx="1524.8" cy="916" r="7.1"/><circle cx="1560.4" cy="909.2" r="7.1"/><circle cx="1595.9" cy="970.1" r="7.1"/><circle cx="1631.5" cy="859.5" r="7.1"/><circle cx="1667.1" cy="859.5" r="7.1"/><circle cx="1702.7" cy="896.4" r="7.1"/><circle cx="1738.2" cy="859.5" r="7.1"/><circle cx="1773.8" cy="859.5" r="7.1"/><circle cx="1809.4" cy="970.1" r="7.1"/><circle cx="1844.9" cy="909.2" r="7.1"/><circle cx="1880.5" cy="916" r="7.1"/><circle cx="1916.1" cy="919.6" r="7.1"/><circle cx="1951.6" cy="846.8" r="7.1"/></g>
<path d="M1446.6 916.6L1475 893.7L1503.5 933.9L1531.9 1024.2L1560.4 973.7L1588.8 956.1L1617.3 979.9L1645.7 985L1674.2 950.8L1702.7 1009.4L1731.1 950.8L1759.6 985L1788 979.9L1816.5 956.1L1844.9 973.7L1873.4 1024.2L1901.8 933.9L1930.3 893.7L1958.7 916.6" fill="none" stroke="#f23838" stroke-width="2.5" />
<path fill="none" stroke="#f23838" stroke-width="1.9"  d="M1446.6 909.9v13.5M1441.8 911.8l9.5 9.5M1441.8 921.4l9.5 -9.5M1439.8 916.6h13.5M1475 887v13.5M1470.2 888.9l9.5 9.5M1470.2 898.5l9.5 -9.5M1468.3 893.7h13.5M1503.5 927.1v13.5M1498.7 929.1l9.5 9.5M1498.7 938.6l9.5 -9.5M1496.7 933.9h13.5M1531.9 1017.5v13.5M1527.1 1019.4l9.5 9.5M1527.1 1029l9.5 -9.5M1525.2 1024.2h13.5M1560.4 966.9v13.5M1555.6 968.9l9.5 9.5M1555.6 978.5l9.5 -9.5M1553.6 973.7h13.5M1588.8 949.4v13.5M1584.1 951.4l9.5 9.5M1584.1 960.9l9.5 -9.5M1582.1 956.1h13.5M1617.3 973.2v13.5M1612.5 975.2l9.5 9.5M1612.5 984.7l9.5 -9.5M1610.5 979.9h13.5M1645.7 978.2v13.5M1641 980.2l9.5 9.5M1641 989.8l9.5 -9.5M1639 985h13.5M1674.2 944v13.5M1669.4 946l9.5 9.5M1669.4 955.6l9.5 -9.5M1667.4 950.8h13.5M1702.7 1002.6v13.5M1697.9 1004.6l9.5 9.5M1697.9 1014.1l9.5 -9.5M1695.9 1009.4h13.5M1731.1 944v13.5M1726.3 946l9.5 9.5M1726.3 955.6l9.5 -9.5M1724.4 950.8h13.5M1759.6 978.2v13.5M1754.8 980.2l9.5 9.5M1754.8 989.8l9.5 -9.5M1752.8 985h13.5M1788 973.2v13.5M1783.2 975.2l9.5 9.5M1783.2 984.7l9.5 -9.5M1781.3 979.9h13.5M1816.5 949.4v13.5M1811.7 951.4l9.5 9.5M1811.7 960.9l9.5 -9.5M1809.7 956.1h13.5M1844.9 966.9v13.5M1840.2 968.9l9.5 9.5M1840.2 978.5l9.5 -9.5M1838.2 973.7h13.5M1873.4 1017.5v13.5M1868.6 1019.4l9.5 9.5M1868.6 1029l9.5 -9.5M1866.6 1024.2h13.5M1901.8 927.1v13.5M1897.1 929.1l9.5 9.5M1897.1 938.6l9.5 -9.5M1895.1 933.9h13.5M1930.3 887v13.5M1925.5 888.9l9.5 9.5M1925.5 898.5l9.5 -9.5M1923.5 893.7h13.5M1958.7 909.9v13.5M1954 911.8l9.5 9.5M1954 921.4l9.5 -9.5M1952 916.6h13.5"/>
<path d="M1430 1019.2L1441.8 1152.2L1453.7 1108.1L1465.5 1092.9L1477.4 1048.8L1489.2 1122.5L1501.1 1078.4L1512.9 1166.6L1524.8 1123.2L1536.7 1108.1L1548.5 1092.9L1560.4 1063.3L1572.2 1106.6L1584.1 1123.2L1595.9 1078.4L1607.8 1108.1L1619.7 1152.2L1631.5 1078.4L1643.4 1166.6L1655.2 1048.8L1667.1 1123.2L1678.9 1092.9L1690.8 1108.1L1702.7 1017.1L1714.5 1108.1L1726.4 1092.9L1738.2 1123.2L1750.1 1048.8L1761.9 1166.6L1773.8 1078.4L1785.6 1152.2L1797.5 1108.1L1809.4 1078.4L1821.2 1123.2L1833.1 1106.6L1844.9 1063.3L1856.8 1092.9L1868.6 1108.1L1880.5 1123.2L1892.3 1166.6L1904.2 1078.4L1916.1 1122.5L1927.9 1048.8L1939.8 1092.9L1951.6 1108.1L1963.5 1152.2L1975.3 1019.2" fill="none" stroke="#000000" stroke-width="2.5" />
<path fill="none" stroke="#000000" stroke-width="2.2"  d="M1430 1010.2l6.2 9l-6.2 9l-6.2 -9zM1441.8 1143.2l6.2 9l-6.2 9l-6.2 -9zM1453.7 1099.1l6.2 9l-6.2 9l-6.2 -9zM1465.5 1083.9l6.2 9l-6.2 9l-6.2 -9zM1477.4 1039.8l6.2 9l-6.2 9l-6.2 -9zM1489.2 1113.5l6.2 9l-6.2 9l-6.2 -9zM1501.1 1069.4l6.2 9l-6.2 9l-6.2 -9zM1512.9 1157.6l6.2 9l-6.2 9l-6.2 -9zM1524.8 1114.2l6.2 9l-6.2 9l-6.2 -9zM1536.7 1099.1l6.2 9l-6.2 9l-6.2 -9zM1548.5 1083.9l6.2 9l-6.2 9l-6.2 -9zM1560.4 1054.3l6.2 9l-6.2 9l-6.2 -9zM1572.2 1097.6l6.2 9l-6.2 9l-6.2 -9zM1584.1 1114.2l6.2 9l-6.2 9l-6.2 -9zM1595.9 1069.4l6.2 9l-6.2 9l-6.2 -9zM1607.8 1099.1l6.2 9l-6.2 9l-6.2 -9zM1619.7 1143.2l6.2 9l-6.2 9l-6.2 -9zM1631.5 1069.4l6.2 9l-6.2 9l-6.2 -9zM1643.4 1157.6l6.2 9l-6.2 9l-6.2 -9zM1655.2 1039.8l6.2 9l-6.2 9l-6.2 -9zM1667.1 1114.2l6.2 9l-6.2 9l-6.2 -9zM1678.9 1083.9l6.2 9l-6.2 9l-6.2 -9zM1690.8 1099.1l6.2 9l-6.2 9l-6.2 -9zM1702.7 1008.1l6.2 9l-6.2 9l-6.2 -9zM1714.5 1099.1l6.2 9l-6.2 9l-6.2 -9zM1726.4 1083.9l6.2 9l-6.2 9l-6.2 -9zM1738.2 1114.2l6.2 9l-6.2 9l-6.2 -9zM1750.1 1039.8l6.2 9l-6.2 9l-6.2 -9zM1761.9 1157.6l6.2 9l-6.2 9l-6.2 -9zM1773.8 1069.4l6.2 9l-6.2 9l-6.2 -9zM1785.6 1143.2l6.2 9l-6.2 9l-6.2 -9zM1797.5 1099.1l6.2 9l-6.2 9l-6.2 -9zM1809.4 1069.4l6.2 9l-6.2 9l-6.2 -9zM1821.2 1114.2l6.2 9l-6.2 9l-6.2 -9zM1833.1 1097.6l6.2 9l-6.2 9l-6.2 -9zM1844.9 1054.3l6.2 9l-6.2 9l-6.2 -9zM1856.8 1083.9l6.2 9l-6.2 9l-6.2 -9zM1868.6 1099.1l6.2 9l-6.2 9l-6.2 -9zM1880.5 1114.2l6.2 9l-6.2 9l-6.2 -9zM1892.3 1157.6l6.2 9l-6.2 9l-6.2 -9zM1904.2 1069.4l6.2 9l-6.2 9l-6.2 -9zM1916.1 1113.5l6.2 9l-6.2 9l-6.2 -9zM1927.9 1039.8l6.2 9l-6.2 9l-6.2 -9zM1939.8 1083.9l6.2 9l-6.2 9l-6.2 -9zM1951.6 1099.1l6.2 9l-6.2 9l-6.2 -9zM1963.5 1143.2l6.2 9l-6.2 9l-6.2 -9zM1975.3 1010.2l6.2 9l-6.2 9l-6.2 -9z"/>
<path d="M1427.6 1105.9L1437.1 1177.8L1446.6 1069.3L1456 1069.3L1465.5 1051.7L1475 1087.8L1484.5 1141.8L1494 1123.2L1503.5 1123.2L1512.9 1141.8L1522.4 1141.8L1531.9 1141.8L1541.4 1141.8L1550.9 1087.8L1560.4 1105.9L1569.9 1105.9L1579.3 1141.8L1588.8 1105.9L1598.3 1105.9L1607.8 1160.1L1617.3 1105.9L1626.8 1123.7L1636.3 1123.7L1645.7 1160.1L1655.2 1123.7L1664.7 1105.9L1674.2 1087.8L1683.7 1160.1L1693.2 1141.8L1702.7 1160.1L1712.1 1141.8L1721.6 1160.1L1731.1 1087.8L1740.6 1105.9L1750.1 1123.7L1759.6 1160.1L1769 1123.7L1778.5 1123.7L1788 1105.9L1797.5 1160.1L1807 1105.9L1816.5 1105.9L1826 1141.8L1835.4 1105.9L1844.9 1105.9L1854.4 1087.8L1863.9 1141.8L1873.4 1141.8L1882.9 1141.8L1892.3 1141.8L1901.8 1123.2L1911.3 1123.2L1920.8 1141.8L1930.3 1087.8L1939.8 1051.7L1949.3 1069.3L1958.7 1069.3L1968.2 1177.8L1977.7 1105.9" fill="none" stroke="#4cb8e8" stroke-width="2.5" />
<path fill="none" stroke="#4cb8e8" stroke-width="2.4"  d="M1420.8 1105.9h13.5M1427.6 1099.1v13.5M1430.3 1177.8h13.5M1437.1 1171v13.5M1439.8 1069.3h13.5M1446.6 1062.6v13.5M1449.3 1069.3h13.5M1456 1062.6v13.5M1458.8 1051.7h13.5M1465.5 1044.9v13.5M1468.3 1087.8h13.5M1475 1081.1v13.5M1477.7 1141.8h13.5M1484.5 1135v13.5M1487.2 1123.2h13.5M1494 1116.5v13.5M1496.7 1123.2h13.5M1503.5 1116.5v13.5M1506.2 1141.8h13.5M1512.9 1135v13.5M1515.7 1141.8h13.5M1522.4 1135v13.5M1525.2 1141.8h13.5M1531.9 1135v13.5M1534.7 1141.8h13.5M1541.4 1135v13.5M1544.1 1087.8h13.5M1550.9 1081.1v13.5M1553.6 1105.9h13.5M1560.4 1099.1v13.5M1563.1 1105.9h13.5M1569.9 1099.1v13.5M1572.6 1141.8h13.5M1579.3 1135v13.5M1582.1 1105.9h13.5M1588.8 1099.1v13.5M1591.6 1105.9h13.5M1598.3 1099.1v13.5M1601 1160.1h13.5M1607.8 1153.4v13.5M1610.5 1105.9h13.5M1617.3 1099.1v13.5M1620 1123.7h13.5M1626.8 1116.9v13.5M1629.5 1123.7h13.5M1636.3 1116.9v13.5M1639 1160.1h13.5M1645.7 1153.4v13.5M1648.5 1123.7h13.5M1655.2 1116.9v13.5M1658 1105.9h13.5M1664.7 1099.1v13.5M1667.4 1087.8h13.5M1674.2 1081.1v13.5M1676.9 1160.1h13.5M1683.7 1153.4v13.5M1686.4 1141.8h13.5M1693.2 1135v13.5M1695.9 1160.1h13.5M1702.7 1153.4v13.5M1705.4 1141.8h13.5M1712.1 1135v13.5M1714.9 1160.1h13.5M1721.6 1153.4v13.5M1724.4 1087.8h13.5M1731.1 1081.1v13.5M1733.8 1105.9h13.5M1740.6 1099.1v13.5M1743.3 1123.7h13.5M1750.1 1116.9v13.5M1752.8 1160.1h13.5M1759.6 1153.4v13.5M1762.3 1123.7h13.5M1769 1116.9v13.5M1771.8 1123.7h13.5M1778.5 1116.9v13.5M1781.3 1105.9h13.5M1788 1099.1v13.5M1790.8 1160.1h13.5M1797.5 1153.4v13.5M1800.2 1105.9h13.5M1807 1099.1v13.5M1809.7 1105.9h13.5M1816.5 1099.1v13.5M1819.2 1141.8h13.5M1826 1135v13.5M1828.7 1105.9h13.5M1835.4 1099.1v13.5M1838.2 1105.9h13.5M1844.9 1099.1v13.5M1847.7 1087.8h13.5M1854.4 1081.1v13.5M1857.1 1141.8h13.5M1863.9 1135v13.5M1866.6 1141.8h13.5M1873.4 1135v13.5M1876.1 1141.8h13.5M1882.9 1135v13.5M1885.6 1141.8h13.5M1892.3 1135v13.5M1895.1 1123.2h13.5M1901.8 1116.5v13.5M1904.6 1123.2h13.5M1911.3 1116.5v13.5M1914.1 1141.8h13.5M1920.8 1135v13.5M1923.5 1087.8h13.5M1930.3 1081.1v13.5M1933 1051.7h13.5M1939.8 1044.9v13.5M1942.5 1069.3h13.5M1949.3 1062.6v13.5M1952 1069.3h13.5M1958.7 1062.6v13.5M1961.5 1177.8h13.5M1968.2 1171v13.5M1971 1105.9h13.5M1977.7 1099.1v13.5"/>
</svg>
</body></html>
